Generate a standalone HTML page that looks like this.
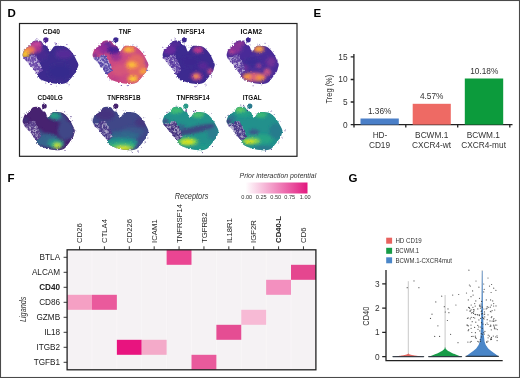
<!DOCTYPE html><html><head><meta charset="utf-8"><style>
html,body{margin:0;padding:0;background:#fff;overflow:hidden;}
svg{display:block;font-family:"Liberation Sans",sans-serif;will-change:transform;}
.pl{font-weight:bold;font-size:11.5px;fill:#000;}
.tt{font-weight:bold;font-size:6.7px;fill:#111;}
.ax{font-size:8.3px;fill:#333;}
.cl{font-size:7.7px;fill:#222;}
.rl{font-size:8.2px;fill:#222;}
.lg{font-size:6.3px;fill:#333;}
</style></head><body>
<svg width="520" height="378" viewBox="0 0 520 378">
<defs>
<clipPath id="cb"><path d="M22.60,55.00C22.55,54.22 22.80,53.58 23.20,52.50C23.60,51.42 24.20,49.42 25.00,48.50C25.80,47.58 27.00,47.67 28.00,47.00C29.00,46.33 30.17,45.42 31.00,44.50C31.83,43.58 32.00,42.15 33.00,41.50C34.00,40.85 35.67,40.65 37.00,40.60C38.33,40.55 40.08,40.80 41.00,41.20C41.92,41.60 42.00,42.37 42.50,43.00C43.00,43.63 43.33,44.58 44.00,45.00C44.67,45.42 45.92,45.17 46.50,45.50C47.08,45.83 47.00,46.00 47.50,47.00C48.00,48.00 48.83,51.00 49.50,51.50C50.17,52.00 50.83,50.75 51.50,50.00C52.17,49.25 52.83,47.70 53.50,47.00C54.17,46.30 54.75,46.00 55.50,45.80C56.25,45.60 56.92,45.77 58.00,45.80C59.08,45.83 60.67,45.80 62.00,46.00C63.33,46.20 64.83,46.45 66.00,47.00C67.17,47.55 68.00,48.38 69.00,49.30C70.00,50.22 71.13,51.43 72.00,52.50C72.87,53.57 73.43,54.38 74.20,55.70C74.97,57.02 75.90,58.93 76.60,60.40C77.30,61.87 78.25,63.23 78.40,64.50C78.55,65.77 77.80,66.93 77.50,68.00C77.20,69.07 77.25,69.72 76.60,70.90C75.95,72.08 74.67,73.70 73.60,75.10C72.53,76.50 71.30,78.07 70.20,79.30C69.10,80.53 68.42,81.70 67.00,82.50C65.58,83.30 63.45,83.88 61.70,84.10C59.95,84.32 58.25,83.98 56.50,83.80C54.75,83.62 52.97,83.38 51.20,83.00C49.43,82.62 47.67,82.12 45.90,81.50C44.13,80.88 42.02,80.18 40.60,79.30C39.18,78.42 37.95,77.08 37.40,76.20C36.85,75.32 36.83,74.70 37.30,74.00C37.77,73.30 39.42,72.87 40.20,72.00C40.98,71.13 42.03,70.13 42.00,68.80C41.97,67.47 40.75,65.55 40.00,64.00C39.25,62.45 38.33,61.00 37.50,59.50C36.67,58.00 36.08,55.55 35.00,55.00C33.92,54.45 32.33,55.82 31.00,56.20C29.67,56.58 28.25,57.13 27.00,57.30C25.75,57.47 24.23,57.58 23.50,57.20C22.77,56.82 22.65,55.78 22.60,55.00Z"/></clipPath>
<filter id="bl" x="-50%" y="-50%" width="200%" height="200%"><feGaussianBlur stdDeviation="1.6"/></filter>
<filter id="rough" x="-10%" y="-10%" width="120%" height="120%"><feTurbulence type="fractalNoise" baseFrequency="0.6" numOctaves="2" seed="4" result="t"/><feDisplacementMap in="SourceGraphic" in2="t" scale="2.6" xChannelSelector="R" yChannelSelector="G"/></filter>
<pattern id="spk" width="2.2" height="2.2" patternUnits="userSpaceOnUse" patternTransform="rotate(30)"><rect width="1.1" height="1.1" fill="currentColor"/></pattern>
<linearGradient id="pk" x1="0" x2="1" y1="0" y2="0"><stop offset="0" stop-color="#fff"/><stop offset="1" stop-color="#e2187f"/></linearGradient>
</defs>
<rect x="0" y="0" width="520" height="378" fill="#fff"/>
<rect x="0.5" y="0.5" width="519" height="377" fill="none" stroke="#4a4a4a" stroke-width="1.1"/>
<!-- D -->
<text x="7.5" y="16.8" class="pl">D</text>
<rect x="19.5" y="23.5" width="277.5" height="132.8" fill="none" stroke="#222" stroke-width="1.2"/>
<g transform="translate(0,0)"><g filter="url(#rough)"><g clip-path="url(#cb)"><rect x="20" y="36" width="62" height="50" fill="#3c2c8e"/><g filter="url(#bl)"><ellipse cx="40" cy="55" rx="8" ry="6" fill="#4a2a90" opacity="0.8"/><ellipse cx="64" cy="54" rx="9" ry="5" fill="#5a2a98" opacity="0.8"/><ellipse cx="60" cy="72" rx="12" ry="8" fill="#352a8c" opacity="0.7"/><ellipse cx="33" cy="47.5" rx="9" ry="5.5" fill="#a8348f" opacity="1"/><ellipse cx="37" cy="43.5" rx="5" ry="2.6" fill="#c8449a" opacity="1"/><ellipse cx="29" cy="50" rx="6" ry="4" fill="#ec7656" opacity="1"/><ellipse cx="26.5" cy="51.5" rx="3.5" ry="2.8" fill="#f39a44" opacity="1"/><ellipse cx="25" cy="54.6" rx="3.8" ry="3.2" fill="#f8c22e" opacity="1"/></g></g><circle cx="45.8" cy="39.8" r="2.6" fill="#4a2390"/><path d="M23.00,57.40C23.50,56.93 26.00,57.63 28.00,57.20C30.00,56.77 33.40,54.37 35.00,54.80C36.60,55.23 36.73,58.27 37.60,59.80C38.47,61.33 39.40,62.47 40.20,64.00C41.00,65.53 42.40,67.50 42.40,69.00C42.40,70.50 41.10,72.20 40.20,73.00C39.30,73.80 38.20,74.47 37.00,73.80C35.80,73.13 34.33,70.63 33.00,69.00C31.67,67.37 30.33,65.50 29.00,64.00C27.67,62.50 26.00,61.10 25.00,60.00C24.00,58.90 22.50,57.87 23.00,57.40Z" fill="#6a48a8" opacity="0.45"/><g fill="#6a48a8"><circle cx="38.2" cy="68.8" r="0.82"/><circle cx="33.2" cy="55.7" r="0.74"/><circle cx="26.3" cy="57.7" r="0.66"/><circle cx="40.9" cy="71.2" r="0.65"/><circle cx="35.6" cy="56.6" r="0.60"/><circle cx="33.9" cy="58.0" r="0.85"/><circle cx="34.8" cy="69.1" r="0.83"/><circle cx="32.6" cy="60.1" r="0.78"/><circle cx="33.1" cy="61.2" r="0.86"/><circle cx="29.6" cy="64.2" r="0.83"/><circle cx="39.1" cy="72.7" r="0.80"/><circle cx="41.1" cy="69.0" r="0.83"/><circle cx="32.8" cy="64.4" r="0.77"/><circle cx="37.8" cy="68.8" r="0.64"/><circle cx="26.6" cy="60.5" r="0.79"/><circle cx="35.7" cy="69.7" r="0.77"/><circle cx="24.4" cy="58.0" r="0.76"/><circle cx="35.0" cy="67.9" r="0.74"/><circle cx="33.4" cy="68.7" r="0.65"/><circle cx="38.8" cy="72.3" r="0.61"/><circle cx="26.2" cy="59.2" r="0.63"/><circle cx="33.4" cy="64.0" r="0.70"/><circle cx="31.5" cy="58.1" r="0.77"/><circle cx="30.2" cy="59.7" r="0.68"/><circle cx="35.5" cy="67.2" r="0.86"/><circle cx="36.2" cy="63.3" r="0.82"/><circle cx="36.8" cy="64.7" r="0.65"/><circle cx="30.0" cy="63.4" r="0.66"/><circle cx="33.5" cy="59.7" r="0.79"/><circle cx="35.3" cy="56.9" r="0.78"/><circle cx="34.3" cy="56.3" r="0.69"/><circle cx="40.1" cy="66.2" r="0.67"/><circle cx="30.3" cy="63.6" r="0.81"/><circle cx="35.1" cy="56.0" r="0.77"/><circle cx="37.9" cy="66.3" r="0.65"/><circle cx="41.9" cy="69.5" r="0.71"/><circle cx="39.5" cy="71.7" r="0.63"/><circle cx="41.2" cy="70.5" r="0.87"/><circle cx="38.4" cy="61.3" r="0.61"/><circle cx="33.5" cy="56.6" r="0.79"/><circle cx="32.7" cy="58.3" r="0.61"/><circle cx="38.1" cy="68.5" r="0.61"/><circle cx="34.1" cy="58.9" r="0.90"/><circle cx="28.3" cy="60.4" r="0.86"/><circle cx="28.6" cy="58.3" r="0.68"/><circle cx="36.0" cy="63.3" r="0.83"/><circle cx="30.9" cy="62.0" r="0.66"/><circle cx="25.8" cy="59.6" r="0.67"/><circle cx="29.4" cy="57.6" r="0.78"/><circle cx="32.9" cy="62.5" r="0.61"/><circle cx="38.6" cy="61.5" r="0.88"/><circle cx="34.1" cy="69.1" r="0.69"/><circle cx="30.4" cy="60.8" r="0.88"/><circle cx="37.5" cy="61.1" r="0.83"/><circle cx="35.0" cy="59.2" r="0.75"/><circle cx="24.0" cy="58.4" r="0.62"/><circle cx="39.4" cy="71.5" r="0.67"/><circle cx="36.5" cy="66.5" r="0.74"/><circle cx="36.5" cy="72.7" r="0.81"/><circle cx="37.7" cy="61.9" r="0.89"/><circle cx="38.7" cy="67.2" r="0.89"/><circle cx="32.1" cy="59.8" r="0.83"/><circle cx="35.7" cy="67.3" r="0.76"/><circle cx="39.6" cy="70.6" r="0.82"/><circle cx="36.3" cy="63.4" r="0.89"/><circle cx="28.0" cy="58.2" r="0.73"/><circle cx="35.4" cy="65.1" r="0.86"/><circle cx="31.9" cy="58.3" r="0.79"/><circle cx="31.9" cy="57.6" r="0.69"/><circle cx="33.0" cy="62.2" r="0.72"/><circle cx="36.9" cy="68.2" r="0.63"/><circle cx="41.6" cy="69.8" r="0.71"/><circle cx="35.4" cy="69.9" r="0.81"/><circle cx="36.1" cy="62.6" r="0.73"/><circle cx="38.0" cy="61.5" r="0.60"/><circle cx="30.2" cy="65.0" r="0.72"/><circle cx="26.4" cy="57.4" r="0.61"/><circle cx="36.8" cy="65.1" r="0.84"/><circle cx="40.1" cy="69.8" r="0.84"/><circle cx="39.2" cy="72.8" r="0.70"/><circle cx="39.1" cy="71.8" r="0.82"/><circle cx="34.1" cy="64.9" r="0.88"/><circle cx="31.3" cy="64.7" r="0.67"/><circle cx="31.9" cy="57.0" r="0.71"/><circle cx="35.0" cy="58.8" r="0.90"/><circle cx="34.4" cy="66.1" r="0.70"/><circle cx="38.6" cy="67.1" r="0.77"/><circle cx="32.1" cy="59.9" r="0.72"/><circle cx="37.4" cy="68.9" r="0.90"/><circle cx="28.9" cy="59.8" r="0.90"/><circle cx="30.9" cy="66.2" r="0.86"/><circle cx="31.8" cy="58.2" r="0.62"/><circle cx="37.0" cy="65.6" r="0.74"/><circle cx="35.4" cy="60.4" r="0.72"/><circle cx="31.6" cy="66.1" r="0.76"/><circle cx="38.4" cy="73.1" r="0.62"/><circle cx="37.6" cy="66.0" r="0.82"/><circle cx="33.4" cy="65.6" r="0.63"/><circle cx="40.7" cy="70.7" r="0.82"/><circle cx="37.6" cy="64.5" r="0.62"/><circle cx="27.3" cy="58.9" r="0.61"/><circle cx="24.1" cy="57.9" r="0.72"/><circle cx="34.0" cy="60.5" r="0.62"/><circle cx="39.4" cy="68.9" r="0.78"/><circle cx="35.0" cy="69.6" r="0.86"/><circle cx="36.2" cy="66.5" r="0.82"/><circle cx="37.7" cy="69.5" r="0.77"/><circle cx="33.6" cy="63.8" r="0.86"/><circle cx="36.0" cy="69.0" r="0.76"/><circle cx="39.3" cy="67.6" r="0.82"/><circle cx="45.8" cy="83.0" r="0.52"/><circle cx="35.8" cy="39.8" r="0.43"/><circle cx="51.3" cy="84.3" r="0.41"/><circle cx="50.8" cy="49.2" r="0.36"/><circle cx="45.8" cy="43.7" r="0.47"/><circle cx="57.9" cy="43.7" r="0.40"/><circle cx="36.9" cy="38.7" r="0.52"/><circle cx="40.8" cy="79.1" r="0.45"/><circle cx="51.6" cy="84.1" r="0.54"/><circle cx="39.2" cy="69.1" r="0.52"/><circle cx="56.3" cy="86.1" r="0.37"/><circle cx="67.2" cy="83.0" r="0.51"/><circle cx="66.9" cy="44.6" r="0.56"/><circle cx="69.1" cy="84.8" r="0.50"/><circle cx="55.8" cy="44.6" r="0.57"/><circle cx="38.9" cy="64.3" r="0.54"/><circle cx="55.2" cy="43.1" r="0.55"/><circle cx="46.9" cy="46.2" r="0.58"/><circle cx="50.9" cy="84.4" r="0.60"/><circle cx="56.6" cy="43.7" r="0.60"/></g></g></g><text x="51.4" y="33.8" class="tt" text-anchor="middle" textLength="17.3" lengthAdjust="spacingAndGlyphs">CD40</text><g transform="translate(70,0)"><g filter="url(#rough)"><g clip-path="url(#cb)"><rect x="20" y="36" width="62" height="50" fill="#cc4a82"/><g filter="url(#bl)"><ellipse cx="66" cy="66" rx="10" ry="12" fill="#e8705e" opacity="0.75"/><ellipse cx="50" cy="70" rx="8" ry="6" fill="#d85a78" opacity="0.7"/><ellipse cx="33" cy="48" rx="9" ry="6" fill="#8a2a9a" opacity="0.9"/><ellipse cx="44" cy="50" rx="7" ry="4.5" fill="#4a2494" opacity="1"/><ellipse cx="38" cy="43.5" rx="4" ry="2.5" fill="#5a2a9a" opacity="0.9"/><ellipse cx="27" cy="51" rx="3" ry="3" fill="#b83a8e" opacity="0.8"/><ellipse cx="25" cy="55.5" rx="2.5" ry="2" fill="#5a2a98" opacity="0.9"/><ellipse cx="46" cy="57" rx="6" ry="4" fill="#8a2a9a" opacity="0.7"/><ellipse cx="59" cy="49.5" rx="6.5" ry="3.5" fill="#f2904a" opacity="1"/><ellipse cx="58.5" cy="49.5" rx="3.2" ry="2" fill="#fab83a" opacity="1"/><ellipse cx="62" cy="64.8" rx="7" ry="4" fill="#f28a4c" opacity="1"/><ellipse cx="62" cy="64.8" rx="3.5" ry="2.2" fill="#fcc13a" opacity="1"/><ellipse cx="73.5" cy="71.5" rx="3.8" ry="3" fill="#f6a23e" opacity="1"/><ellipse cx="63" cy="78.8" rx="6" ry="3.5" fill="#f29446" opacity="1"/><ellipse cx="63" cy="79" rx="3" ry="2.2" fill="#fdd034" opacity="1"/><ellipse cx="44" cy="79" rx="6" ry="3" fill="#b83a88" opacity="0.6"/><ellipse cx="77" cy="62" rx="2.5" ry="5" fill="#9a3a9a" opacity="0.6"/></g></g><circle cx="45.8" cy="39.8" r="2.6" fill="#3a2690"/><path d="M23.00,57.40C23.50,56.93 26.00,57.63 28.00,57.20C30.00,56.77 33.40,54.37 35.00,54.80C36.60,55.23 36.73,58.27 37.60,59.80C38.47,61.33 39.40,62.47 40.20,64.00C41.00,65.53 42.40,67.50 42.40,69.00C42.40,70.50 41.10,72.20 40.20,73.00C39.30,73.80 38.20,74.47 37.00,73.80C35.80,73.13 34.33,70.63 33.00,69.00C31.67,67.37 30.33,65.50 29.00,64.00C27.67,62.50 26.00,61.10 25.00,60.00C24.00,58.90 22.50,57.87 23.00,57.40Z" fill="#5a48a8" opacity="0.45"/><g fill="#5a48a8"><circle cx="34.2" cy="58.1" r="0.89"/><circle cx="35.9" cy="58.5" r="0.67"/><circle cx="29.7" cy="63.9" r="0.70"/><circle cx="35.4" cy="62.5" r="0.66"/><circle cx="31.0" cy="60.4" r="0.63"/><circle cx="39.3" cy="68.3" r="0.80"/><circle cx="30.0" cy="62.9" r="0.72"/><circle cx="31.7" cy="65.2" r="0.70"/><circle cx="37.3" cy="61.6" r="0.80"/><circle cx="32.0" cy="64.5" r="0.86"/><circle cx="36.5" cy="68.4" r="0.60"/><circle cx="40.4" cy="71.6" r="0.64"/><circle cx="36.8" cy="70.3" r="0.84"/><circle cx="37.5" cy="72.7" r="0.73"/><circle cx="33.5" cy="68.5" r="0.71"/><circle cx="27.0" cy="59.7" r="0.80"/><circle cx="33.6" cy="65.2" r="0.70"/><circle cx="36.3" cy="72.8" r="0.72"/><circle cx="29.8" cy="63.4" r="0.80"/><circle cx="36.2" cy="68.4" r="0.71"/><circle cx="35.9" cy="65.5" r="0.64"/><circle cx="33.5" cy="60.7" r="0.80"/><circle cx="31.1" cy="63.6" r="0.69"/><circle cx="30.6" cy="63.5" r="0.68"/><circle cx="34.9" cy="57.0" r="0.82"/><circle cx="36.5" cy="59.6" r="0.79"/><circle cx="37.0" cy="62.8" r="0.68"/><circle cx="27.0" cy="58.6" r="0.84"/><circle cx="26.0" cy="57.3" r="0.82"/><circle cx="34.3" cy="68.0" r="0.87"/><circle cx="37.0" cy="73.3" r="0.75"/><circle cx="34.1" cy="64.1" r="0.64"/><circle cx="34.8" cy="69.0" r="0.90"/><circle cx="30.5" cy="56.8" r="0.62"/><circle cx="41.3" cy="69.9" r="0.88"/><circle cx="31.9" cy="58.2" r="0.65"/><circle cx="37.9" cy="69.9" r="0.66"/><circle cx="34.4" cy="67.9" r="0.79"/><circle cx="36.3" cy="61.8" r="0.84"/><circle cx="36.4" cy="70.7" r="0.82"/><circle cx="37.3" cy="68.4" r="0.69"/><circle cx="32.8" cy="64.2" r="0.88"/><circle cx="36.6" cy="60.0" r="0.79"/><circle cx="35.1" cy="56.9" r="0.88"/><circle cx="39.1" cy="71.4" r="0.65"/><circle cx="40.2" cy="71.9" r="0.81"/><circle cx="37.5" cy="70.0" r="0.87"/><circle cx="33.1" cy="65.8" r="0.69"/><circle cx="25.2" cy="58.8" r="0.87"/><circle cx="38.2" cy="66.2" r="0.71"/><circle cx="40.6" cy="68.6" r="0.70"/><circle cx="34.0" cy="60.2" r="0.69"/><circle cx="36.3" cy="72.3" r="0.86"/><circle cx="34.9" cy="66.9" r="0.81"/><circle cx="40.1" cy="71.3" r="0.83"/><circle cx="40.0" cy="68.6" r="0.75"/><circle cx="37.9" cy="67.3" r="0.67"/><circle cx="30.8" cy="63.2" r="0.81"/><circle cx="38.6" cy="63.8" r="0.69"/><circle cx="27.8" cy="58.6" r="0.85"/><circle cx="32.8" cy="60.0" r="0.83"/><circle cx="30.7" cy="60.6" r="0.68"/><circle cx="34.0" cy="69.7" r="0.72"/><circle cx="28.9" cy="57.6" r="0.89"/><circle cx="33.3" cy="57.2" r="0.61"/><circle cx="33.1" cy="60.0" r="0.77"/><circle cx="29.0" cy="62.7" r="0.77"/><circle cx="32.3" cy="56.3" r="0.76"/><circle cx="36.4" cy="66.9" r="0.81"/><circle cx="37.2" cy="73.6" r="0.87"/><circle cx="26.3" cy="58.1" r="0.63"/><circle cx="30.2" cy="62.9" r="0.71"/><circle cx="39.2" cy="66.9" r="0.84"/><circle cx="40.1" cy="70.1" r="0.75"/><circle cx="30.6" cy="65.3" r="0.74"/><circle cx="36.0" cy="71.9" r="0.80"/><circle cx="31.6" cy="56.6" r="0.63"/><circle cx="41.2" cy="69.2" r="0.78"/><circle cx="34.8" cy="67.5" r="0.75"/><circle cx="33.7" cy="56.4" r="0.85"/><circle cx="40.2" cy="71.9" r="0.83"/><circle cx="27.1" cy="60.2" r="0.62"/><circle cx="38.5" cy="72.1" r="0.88"/><circle cx="34.6" cy="70.8" r="0.85"/><circle cx="37.0" cy="67.0" r="0.72"/><circle cx="35.7" cy="56.3" r="0.73"/><circle cx="31.2" cy="66.7" r="0.88"/><circle cx="28.7" cy="57.1" r="0.79"/><circle cx="35.9" cy="65.5" r="0.84"/><circle cx="33.7" cy="65.4" r="0.63"/><circle cx="31.6" cy="59.9" r="0.68"/><circle cx="30.8" cy="62.7" r="0.66"/><circle cx="34.5" cy="68.6" r="0.78"/><circle cx="36.7" cy="73.4" r="0.73"/><circle cx="36.9" cy="59.3" r="0.88"/><circle cx="36.4" cy="70.4" r="0.88"/><circle cx="33.6" cy="69.1" r="0.65"/><circle cx="32.4" cy="59.2" r="0.61"/><circle cx="27.6" cy="59.6" r="0.81"/><circle cx="32.3" cy="63.7" r="0.79"/><circle cx="30.6" cy="65.8" r="0.86"/><circle cx="35.0" cy="61.2" r="0.89"/><circle cx="36.1" cy="59.1" r="0.90"/><circle cx="40.2" cy="64.7" r="0.84"/><circle cx="34.2" cy="69.1" r="0.83"/><circle cx="34.5" cy="56.6" r="0.65"/><circle cx="38.8" cy="65.8" r="0.88"/><circle cx="40.1" cy="65.5" r="0.73"/><circle cx="28.7" cy="61.9" r="0.76"/><circle cx="33.9" cy="68.3" r="0.65"/><circle cx="67.0" cy="46.2" r="0.47"/><circle cx="57.3" cy="85.6" r="0.53"/><circle cx="77.7" cy="70.3" r="0.58"/><circle cx="53.4" cy="45.0" r="0.35"/><circle cx="53.8" cy="47.0" r="0.41"/><circle cx="41.6" cy="68.6" r="0.44"/><circle cx="42.2" cy="41.4" r="0.56"/><circle cx="29.3" cy="43.3" r="0.57"/><circle cx="39.7" cy="80.0" r="0.38"/><circle cx="45.7" cy="44.0" r="0.40"/><circle cx="66.5" cy="45.2" r="0.41"/><circle cx="51.3" cy="85.5" r="0.57"/><circle cx="73.7" cy="51.9" r="0.51"/><circle cx="62.8" cy="44.9" r="0.48"/><circle cx="49.1" cy="48.6" r="0.36"/><circle cx="33.7" cy="55.3" r="0.56"/><circle cx="33.5" cy="53.9" r="0.42"/><circle cx="66.8" cy="45.9" r="0.40"/><circle cx="51.5" cy="85.5" r="0.41"/><circle cx="40.7" cy="69.8" r="0.47"/><circle cx="48.6" cy="49.0" r="0.44"/></g></g></g><text x="125" y="33.8" class="tt" text-anchor="middle" textLength="12.3" lengthAdjust="spacingAndGlyphs">TNF</text><g transform="translate(140,0) translate(23,0) scale(0.935,1) translate(-23,0)"><g filter="url(#rough)"><g clip-path="url(#cb)"><rect x="20" y="36" width="62" height="50" fill="#3d2a90"/><g filter="url(#bl)"><ellipse cx="30" cy="50" rx="7" ry="5" fill="#6a2a9e" opacity="0.9"/><ellipse cx="36" cy="44" rx="5" ry="3" fill="#5a2a98" opacity="0.7"/><ellipse cx="60.5" cy="50" rx="5.5" ry="3.3" fill="#b8398c" opacity="1"/><ellipse cx="59" cy="76.5" rx="6" ry="4" fill="#b83a8a" opacity="1"/><ellipse cx="58.5" cy="76.3" rx="2.8" ry="2.2" fill="#f5953e" opacity="1"/><ellipse cx="73.5" cy="71.5" rx="3.2" ry="2.8" fill="#c0448a" opacity="1"/><ellipse cx="52" cy="62" rx="10" ry="6" fill="#3a2890" opacity="0.6"/><ellipse cx="66" cy="66" rx="5" ry="4" fill="#6a2a9a" opacity="0.6"/></g></g><circle cx="45.8" cy="39.8" r="2.6" fill="#3a2690"/><path d="M23.00,57.40C23.50,56.93 26.00,57.63 28.00,57.20C30.00,56.77 33.40,54.37 35.00,54.80C36.60,55.23 36.73,58.27 37.60,59.80C38.47,61.33 39.40,62.47 40.20,64.00C41.00,65.53 42.40,67.50 42.40,69.00C42.40,70.50 41.10,72.20 40.20,73.00C39.30,73.80 38.20,74.47 37.00,73.80C35.80,73.13 34.33,70.63 33.00,69.00C31.67,67.37 30.33,65.50 29.00,64.00C27.67,62.50 26.00,61.10 25.00,60.00C24.00,58.90 22.50,57.87 23.00,57.40Z" fill="#5a3aa0" opacity="0.45"/><g fill="#5a3aa0"><circle cx="34.8" cy="62.1" r="0.79"/><circle cx="33.1" cy="67.0" r="0.76"/><circle cx="40.5" cy="69.4" r="0.71"/><circle cx="39.0" cy="68.5" r="0.78"/><circle cx="31.3" cy="64.5" r="0.67"/><circle cx="33.1" cy="57.1" r="0.79"/><circle cx="35.2" cy="68.1" r="0.67"/><circle cx="36.4" cy="64.7" r="0.82"/><circle cx="31.1" cy="62.4" r="0.87"/><circle cx="25.5" cy="58.4" r="0.78"/><circle cx="35.3" cy="63.1" r="0.77"/><circle cx="40.7" cy="71.3" r="0.79"/><circle cx="40.2" cy="68.4" r="0.72"/><circle cx="37.6" cy="66.6" r="0.87"/><circle cx="35.1" cy="65.2" r="0.89"/><circle cx="33.1" cy="62.4" r="0.88"/><circle cx="30.2" cy="57.2" r="0.64"/><circle cx="30.7" cy="59.1" r="0.66"/><circle cx="38.9" cy="71.4" r="0.74"/><circle cx="39.7" cy="67.5" r="0.67"/><circle cx="24.0" cy="57.6" r="0.84"/><circle cx="27.8" cy="58.6" r="0.79"/><circle cx="36.7" cy="73.4" r="0.81"/><circle cx="37.3" cy="72.2" r="0.62"/><circle cx="34.6" cy="64.1" r="0.86"/><circle cx="31.5" cy="59.2" r="0.64"/><circle cx="37.9" cy="69.8" r="0.89"/><circle cx="33.7" cy="66.6" r="0.74"/><circle cx="40.4" cy="68.7" r="0.89"/><circle cx="33.6" cy="55.7" r="0.81"/><circle cx="35.6" cy="58.3" r="0.65"/><circle cx="23.4" cy="57.7" r="0.89"/><circle cx="31.9" cy="61.5" r="0.89"/><circle cx="36.5" cy="61.1" r="0.75"/><circle cx="31.3" cy="63.4" r="0.71"/><circle cx="26.8" cy="60.8" r="0.84"/><circle cx="37.6" cy="71.1" r="0.80"/><circle cx="35.3" cy="60.0" r="0.63"/><circle cx="40.1" cy="72.0" r="0.87"/><circle cx="39.2" cy="71.2" r="0.81"/><circle cx="37.1" cy="59.1" r="0.78"/><circle cx="33.3" cy="63.1" r="0.68"/><circle cx="40.8" cy="69.5" r="0.69"/><circle cx="32.7" cy="67.3" r="0.82"/><circle cx="32.5" cy="61.8" r="0.87"/><circle cx="39.7" cy="72.6" r="0.82"/><circle cx="33.4" cy="61.7" r="0.69"/><circle cx="27.1" cy="61.5" r="0.65"/><circle cx="29.7" cy="62.2" r="0.63"/><circle cx="35.5" cy="61.2" r="0.84"/><circle cx="30.5" cy="60.9" r="0.65"/><circle cx="40.5" cy="65.7" r="0.65"/><circle cx="37.7" cy="66.6" r="0.83"/><circle cx="39.5" cy="65.0" r="0.65"/><circle cx="34.9" cy="66.6" r="0.77"/><circle cx="38.4" cy="64.0" r="0.87"/><circle cx="34.5" cy="57.4" r="0.85"/><circle cx="31.6" cy="61.9" r="0.83"/><circle cx="37.7" cy="60.8" r="0.89"/><circle cx="35.9" cy="58.3" r="0.69"/><circle cx="36.5" cy="72.1" r="0.77"/><circle cx="39.9" cy="72.8" r="0.88"/><circle cx="41.3" cy="68.6" r="0.81"/><circle cx="37.9" cy="71.4" r="0.63"/><circle cx="31.7" cy="63.4" r="0.64"/><circle cx="35.0" cy="70.5" r="0.69"/><circle cx="38.8" cy="65.8" r="0.65"/><circle cx="37.5" cy="66.9" r="0.80"/><circle cx="36.9" cy="69.1" r="0.65"/><circle cx="40.2" cy="67.6" r="0.75"/><circle cx="39.2" cy="71.7" r="0.67"/><circle cx="34.1" cy="65.0" r="0.80"/><circle cx="41.7" cy="67.8" r="0.65"/><circle cx="31.0" cy="57.9" r="0.71"/><circle cx="37.5" cy="67.7" r="0.79"/><circle cx="36.1" cy="58.8" r="0.73"/><circle cx="37.3" cy="66.1" r="0.70"/><circle cx="41.8" cy="68.7" r="0.73"/><circle cx="36.9" cy="73.7" r="0.86"/><circle cx="30.4" cy="65.4" r="0.73"/><circle cx="36.9" cy="65.0" r="0.74"/><circle cx="37.3" cy="66.6" r="0.79"/><circle cx="37.7" cy="63.3" r="0.72"/><circle cx="33.0" cy="59.3" r="0.68"/><circle cx="27.7" cy="57.4" r="0.90"/><circle cx="28.0" cy="58.9" r="0.78"/><circle cx="28.8" cy="63.7" r="0.77"/><circle cx="32.7" cy="66.7" r="0.75"/><circle cx="32.7" cy="64.5" r="0.73"/><circle cx="38.3" cy="61.4" r="0.72"/><circle cx="32.1" cy="66.7" r="0.88"/><circle cx="39.7" cy="71.1" r="0.66"/><circle cx="35.3" cy="61.3" r="0.71"/><circle cx="38.9" cy="66.9" r="0.84"/><circle cx="35.0" cy="67.6" r="0.71"/><circle cx="39.0" cy="69.5" r="0.63"/><circle cx="40.4" cy="64.6" r="0.85"/><circle cx="31.4" cy="59.9" r="0.87"/><circle cx="32.4" cy="62.1" r="0.72"/><circle cx="34.7" cy="57.1" r="0.88"/><circle cx="31.9" cy="58.5" r="0.76"/><circle cx="38.0" cy="63.0" r="0.85"/><circle cx="37.9" cy="71.3" r="0.89"/><circle cx="34.0" cy="67.0" r="0.82"/><circle cx="38.0" cy="67.7" r="0.78"/><circle cx="33.4" cy="57.0" r="0.68"/><circle cx="34.7" cy="58.7" r="0.71"/><circle cx="33.3" cy="64.8" r="0.74"/><circle cx="33.8" cy="64.5" r="0.62"/><circle cx="30.0" cy="60.5" r="0.79"/><circle cx="37.9" cy="72.4" r="0.52"/><circle cx="45.8" cy="44.1" r="0.36"/><circle cx="31.9" cy="40.0" r="0.57"/><circle cx="30.3" cy="44.2" r="0.59"/><circle cx="69.1" cy="84.9" r="0.51"/><circle cx="73.9" cy="75.5" r="0.46"/><circle cx="42.4" cy="40.7" r="0.41"/><circle cx="68.2" cy="83.9" r="0.36"/><circle cx="41.8" cy="40.8" r="0.48"/><circle cx="57.5" cy="86.8" r="0.55"/><circle cx="36.5" cy="38.8" r="0.44"/><circle cx="47.8" cy="45.9" r="0.42"/><circle cx="50.7" cy="47.0" r="0.46"/><circle cx="32.4" cy="54.0" r="0.36"/><circle cx="41.3" cy="40.8" r="0.37"/><circle cx="53.3" cy="45.5" r="0.39"/><circle cx="74.9" cy="75.8" r="0.58"/><circle cx="22.8" cy="47.2" r="0.56"/><circle cx="35.8" cy="39.0" r="0.50"/><circle cx="45.3" cy="43.6" r="0.59"/><circle cx="80.3" cy="65.0" r="0.47"/></g></g></g><text x="190.6" y="33.8" class="tt" text-anchor="middle" textLength="27.9" lengthAdjust="spacingAndGlyphs">TNFSF14</text><g transform="translate(204,0) translate(23,0) scale(0.935,1) translate(-23,0)"><g filter="url(#rough)"><g clip-path="url(#cb)"><rect x="20" y="36" width="62" height="50" fill="#4a2c98"/><g filter="url(#bl)"><ellipse cx="31" cy="48" rx="8" ry="6" fill="#8a3098" opacity="0.9"/><ellipse cx="28" cy="52" rx="3" ry="2.5" fill="#b04090" opacity="0.9"/><ellipse cx="38" cy="43" rx="4" ry="2.5" fill="#a03a94" opacity="0.8"/><ellipse cx="57" cy="49" rx="6" ry="3.5" fill="#ec8450" opacity="1"/><ellipse cx="57.5" cy="48.8" rx="3" ry="1.8" fill="#f8b03c" opacity="1"/><ellipse cx="52" cy="77" rx="13" ry="4.5" fill="#d8607a" opacity="1"/><ellipse cx="45" cy="76.5" rx="4" ry="3" fill="#f39444" opacity="1"/><ellipse cx="58" cy="78" rx="4.5" ry="3" fill="#f29244" opacity="1"/><ellipse cx="66" cy="72" rx="4" ry="3.5" fill="#d05884" opacity="0.9"/><ellipse cx="50" cy="62" rx="9" ry="5" fill="#3c2c94" opacity="0.8"/><ellipse cx="70" cy="62" rx="5" ry="5" fill="#8a3098" opacity="0.6"/><ellipse cx="57" cy="66" rx="2.5" ry="2" fill="#c04a8a" opacity="0.7"/><ellipse cx="42" cy="68" rx="3" ry="3" fill="#8a3098" opacity="0.6"/></g></g><circle cx="45.8" cy="39.8" r="2.6" fill="#3a2690"/><path d="M23.00,57.40C23.50,56.93 26.00,57.63 28.00,57.20C30.00,56.77 33.40,54.37 35.00,54.80C36.60,55.23 36.73,58.27 37.60,59.80C38.47,61.33 39.40,62.47 40.20,64.00C41.00,65.53 42.40,67.50 42.40,69.00C42.40,70.50 41.10,72.20 40.20,73.00C39.30,73.80 38.20,74.47 37.00,73.80C35.80,73.13 34.33,70.63 33.00,69.00C31.67,67.37 30.33,65.50 29.00,64.00C27.67,62.50 26.00,61.10 25.00,60.00C24.00,58.90 22.50,57.87 23.00,57.40Z" fill="#6040a0" opacity="0.45"/><g fill="#6040a0"><circle cx="37.1" cy="69.4" r="0.66"/><circle cx="33.0" cy="57.9" r="0.72"/><circle cx="37.4" cy="69.2" r="0.72"/><circle cx="38.5" cy="66.0" r="0.85"/><circle cx="27.2" cy="61.8" r="0.77"/><circle cx="32.0" cy="59.3" r="0.68"/><circle cx="33.1" cy="68.9" r="0.69"/><circle cx="32.1" cy="57.1" r="0.73"/><circle cx="39.1" cy="68.7" r="0.63"/><circle cx="38.2" cy="68.9" r="0.69"/><circle cx="33.5" cy="66.5" r="0.72"/><circle cx="39.2" cy="63.3" r="0.82"/><circle cx="40.3" cy="65.4" r="0.77"/><circle cx="35.1" cy="58.8" r="0.72"/><circle cx="34.1" cy="67.6" r="0.71"/><circle cx="32.0" cy="60.9" r="0.77"/><circle cx="36.2" cy="60.9" r="0.81"/><circle cx="39.8" cy="65.3" r="0.89"/><circle cx="41.8" cy="68.3" r="0.70"/><circle cx="40.5" cy="67.2" r="0.65"/><circle cx="31.0" cy="60.1" r="0.86"/><circle cx="37.6" cy="60.7" r="0.68"/><circle cx="32.9" cy="62.4" r="0.78"/><circle cx="30.8" cy="56.9" r="0.83"/><circle cx="40.8" cy="68.3" r="0.76"/><circle cx="36.2" cy="72.1" r="0.68"/><circle cx="38.4" cy="65.6" r="0.63"/><circle cx="38.5" cy="69.8" r="0.84"/><circle cx="27.3" cy="59.2" r="0.73"/><circle cx="38.1" cy="70.7" r="0.83"/><circle cx="34.2" cy="64.0" r="0.66"/><circle cx="36.0" cy="67.7" r="0.75"/><circle cx="36.5" cy="60.0" r="0.88"/><circle cx="34.7" cy="60.8" r="0.71"/><circle cx="29.9" cy="58.2" r="0.63"/><circle cx="35.6" cy="60.6" r="0.74"/><circle cx="36.9" cy="59.8" r="0.73"/><circle cx="28.8" cy="60.8" r="0.80"/><circle cx="32.1" cy="67.9" r="0.76"/><circle cx="39.2" cy="68.7" r="0.79"/><circle cx="37.8" cy="62.7" r="0.89"/><circle cx="35.4" cy="71.3" r="0.82"/><circle cx="33.4" cy="61.6" r="0.61"/><circle cx="37.2" cy="71.2" r="0.68"/><circle cx="36.0" cy="58.1" r="0.69"/><circle cx="28.1" cy="58.6" r="0.86"/><circle cx="36.4" cy="66.4" r="0.86"/><circle cx="35.7" cy="69.6" r="0.78"/><circle cx="36.9" cy="58.9" r="0.64"/><circle cx="31.4" cy="66.5" r="0.82"/><circle cx="32.0" cy="65.4" r="0.63"/><circle cx="28.7" cy="59.1" r="0.64"/><circle cx="29.1" cy="61.1" r="0.85"/><circle cx="36.6" cy="72.0" r="0.66"/><circle cx="33.0" cy="61.7" r="0.74"/><circle cx="35.7" cy="66.0" r="0.62"/><circle cx="31.1" cy="61.8" r="0.79"/><circle cx="38.7" cy="71.9" r="0.69"/><circle cx="34.4" cy="55.9" r="0.90"/><circle cx="33.9" cy="60.3" r="0.75"/><circle cx="30.7" cy="61.9" r="0.82"/><circle cx="25.7" cy="58.4" r="0.90"/><circle cx="36.6" cy="67.3" r="0.86"/><circle cx="41.1" cy="69.4" r="0.85"/><circle cx="37.8" cy="62.5" r="0.85"/><circle cx="34.3" cy="64.2" r="0.78"/><circle cx="31.8" cy="67.4" r="0.83"/><circle cx="34.6" cy="61.3" r="0.76"/><circle cx="24.1" cy="57.4" r="0.79"/><circle cx="32.6" cy="61.3" r="0.66"/><circle cx="33.1" cy="64.7" r="0.68"/><circle cx="38.2" cy="68.4" r="0.85"/><circle cx="34.6" cy="57.5" r="0.78"/><circle cx="38.4" cy="67.0" r="0.78"/><circle cx="32.9" cy="65.4" r="0.60"/><circle cx="40.4" cy="68.3" r="0.70"/><circle cx="38.7" cy="64.0" r="0.82"/><circle cx="32.6" cy="55.9" r="0.83"/><circle cx="41.6" cy="69.2" r="0.62"/><circle cx="31.8" cy="59.3" r="0.74"/><circle cx="39.8" cy="67.5" r="0.72"/><circle cx="40.7" cy="72.0" r="0.74"/><circle cx="30.6" cy="60.8" r="0.77"/><circle cx="31.4" cy="66.1" r="0.82"/><circle cx="33.7" cy="57.3" r="0.81"/><circle cx="30.5" cy="60.0" r="0.74"/><circle cx="33.3" cy="62.4" r="0.63"/><circle cx="25.9" cy="58.6" r="0.89"/><circle cx="34.0" cy="58.8" r="0.84"/><circle cx="36.6" cy="69.9" r="0.71"/><circle cx="29.0" cy="62.9" r="0.86"/><circle cx="37.2" cy="65.7" r="0.79"/><circle cx="41.2" cy="67.0" r="0.66"/><circle cx="24.9" cy="58.1" r="0.71"/><circle cx="39.1" cy="65.9" r="0.74"/><circle cx="26.7" cy="61.6" r="0.62"/><circle cx="36.1" cy="60.4" r="0.79"/><circle cx="29.1" cy="62.2" r="0.86"/><circle cx="36.2" cy="69.7" r="0.82"/><circle cx="33.8" cy="60.6" r="0.80"/><circle cx="38.9" cy="71.7" r="0.61"/><circle cx="38.4" cy="63.4" r="0.66"/><circle cx="37.3" cy="69.5" r="0.74"/><circle cx="28.3" cy="58.6" r="0.83"/><circle cx="36.6" cy="69.3" r="0.84"/><circle cx="34.7" cy="70.6" r="0.68"/><circle cx="36.3" cy="70.5" r="0.86"/><circle cx="35.3" cy="56.8" r="0.76"/><circle cx="39.5" cy="65.3" r="0.68"/><circle cx="30.2" cy="58.1" r="0.68"/><circle cx="37.7" cy="64.1" r="0.52"/><circle cx="55.7" cy="44.1" r="0.42"/><circle cx="63.7" cy="43.3" r="0.54"/><circle cx="33.0" cy="41.0" r="0.47"/><circle cx="28.6" cy="43.0" r="0.52"/><circle cx="41.1" cy="40.5" r="0.52"/><circle cx="38.8" cy="72.7" r="0.53"/><circle cx="30.6" cy="43.0" r="0.57"/><circle cx="41.3" cy="68.9" r="0.42"/><circle cx="30.7" cy="44.5" r="0.41"/><circle cx="47.9" cy="44.9" r="0.48"/><circle cx="49.6" cy="50.4" r="0.58"/><circle cx="57.9" cy="44.1" r="0.53"/><circle cx="72.6" cy="51.6" r="0.43"/><circle cx="77.1" cy="60.0" r="0.52"/><circle cx="43.9" cy="43.3" r="0.35"/><circle cx="67.7" cy="45.9" r="0.45"/><circle cx="50.9" cy="85.8" r="0.57"/><circle cx="26.6" cy="46.2" r="0.47"/><circle cx="61.9" cy="45.5" r="0.41"/></g></g></g><text x="251.4" y="33.8" class="tt" text-anchor="middle" textLength="21.7" lengthAdjust="spacingAndGlyphs">ICAM2</text><g transform="translate(0,66.2) translate(23,0) scale(0.935,1) translate(-23,0)"><g filter="url(#rough)"><g clip-path="url(#cb)"><rect x="20" y="36" width="62" height="50" fill="#46206f"/><g filter="url(#bl)"><ellipse cx="69" cy="64" rx="9" ry="10" fill="#3e4a89" opacity="0.9"/><ellipse cx="63" cy="52" rx="7" ry="4" fill="#3b528b" opacity="0.8"/><ellipse cx="57" cy="49.5" rx="7" ry="4" fill="#21908c" opacity="1"/><ellipse cx="56" cy="49" rx="3.5" ry="2.2" fill="#2aa084" opacity="1"/><ellipse cx="48" cy="74" rx="13" ry="7" fill="#31688e" opacity="0.95"/><ellipse cx="58" cy="77.5" rx="9" ry="5" fill="#2a8f8a" opacity="1"/><ellipse cx="40" cy="68" rx="5" ry="5" fill="#3b5a8b" opacity="0.7"/><ellipse cx="59.5" cy="79" rx="5.5" ry="3.2" fill="#5ec962" opacity="1"/><ellipse cx="59.5" cy="79.3" rx="3" ry="1.8" fill="#dce319" opacity="1"/><ellipse cx="26" cy="54" rx="3" ry="2.5" fill="#3e3a7e" opacity="0.8"/></g></g><circle cx="45.8" cy="39.8" r="2.6" fill="#44206e"/><path d="M23.00,57.40C23.50,56.93 26.00,57.63 28.00,57.20C30.00,56.77 33.40,54.37 35.00,54.80C36.60,55.23 36.73,58.27 37.60,59.80C38.47,61.33 39.40,62.47 40.20,64.00C41.00,65.53 42.40,67.50 42.40,69.00C42.40,70.50 41.10,72.20 40.20,73.00C39.30,73.80 38.20,74.47 37.00,73.80C35.80,73.13 34.33,70.63 33.00,69.00C31.67,67.37 30.33,65.50 29.00,64.00C27.67,62.50 26.00,61.10 25.00,60.00C24.00,58.90 22.50,57.87 23.00,57.40Z" fill="#553a88" opacity="0.45"/><g fill="#553a88"><circle cx="40.1" cy="66.2" r="0.72"/><circle cx="35.2" cy="62.6" r="0.74"/><circle cx="33.3" cy="59.4" r="0.65"/><circle cx="33.9" cy="56.1" r="0.78"/><circle cx="38.8" cy="71.4" r="0.68"/><circle cx="38.9" cy="65.5" r="0.79"/><circle cx="25.0" cy="57.4" r="0.79"/><circle cx="35.0" cy="69.1" r="0.79"/><circle cx="33.5" cy="65.2" r="0.82"/><circle cx="36.6" cy="72.0" r="0.87"/><circle cx="39.6" cy="64.9" r="0.76"/><circle cx="37.4" cy="66.2" r="0.61"/><circle cx="32.2" cy="63.5" r="0.63"/><circle cx="34.1" cy="66.4" r="0.84"/><circle cx="34.9" cy="60.4" r="0.77"/><circle cx="36.5" cy="58.4" r="0.65"/><circle cx="29.0" cy="57.7" r="0.63"/><circle cx="26.4" cy="58.8" r="0.67"/><circle cx="32.6" cy="58.8" r="0.76"/><circle cx="27.0" cy="58.1" r="0.75"/><circle cx="33.8" cy="62.3" r="0.76"/><circle cx="30.3" cy="58.6" r="0.71"/><circle cx="38.2" cy="66.9" r="0.68"/><circle cx="31.2" cy="56.5" r="0.84"/><circle cx="32.3" cy="61.7" r="0.84"/><circle cx="28.6" cy="63.3" r="0.73"/><circle cx="26.6" cy="58.4" r="0.67"/><circle cx="39.3" cy="71.4" r="0.82"/><circle cx="34.1" cy="57.1" r="0.67"/><circle cx="34.7" cy="57.8" r="0.62"/><circle cx="34.8" cy="59.1" r="0.73"/><circle cx="37.6" cy="67.8" r="0.85"/><circle cx="32.9" cy="68.2" r="0.88"/><circle cx="31.9" cy="63.2" r="0.87"/><circle cx="31.5" cy="59.7" r="0.80"/><circle cx="39.0" cy="70.5" r="0.72"/><circle cx="39.2" cy="65.4" r="0.79"/><circle cx="36.7" cy="62.7" r="0.65"/><circle cx="29.5" cy="59.1" r="0.84"/><circle cx="24.6" cy="58.8" r="0.61"/><circle cx="34.3" cy="65.6" r="0.82"/><circle cx="26.9" cy="57.9" r="0.89"/><circle cx="35.4" cy="64.4" r="0.75"/><circle cx="36.7" cy="59.3" r="0.75"/><circle cx="37.6" cy="71.4" r="0.87"/><circle cx="34.1" cy="58.7" r="0.75"/><circle cx="28.2" cy="58.1" r="0.86"/><circle cx="34.8" cy="69.3" r="0.73"/><circle cx="37.7" cy="68.8" r="0.72"/><circle cx="26.1" cy="60.5" r="0.82"/><circle cx="28.5" cy="58.9" r="0.66"/><circle cx="36.9" cy="71.8" r="0.63"/><circle cx="30.3" cy="56.6" r="0.80"/><circle cx="29.2" cy="57.3" r="0.62"/><circle cx="36.5" cy="72.3" r="0.88"/><circle cx="38.2" cy="66.0" r="0.76"/><circle cx="33.5" cy="61.6" r="0.64"/><circle cx="40.7" cy="68.1" r="0.89"/><circle cx="39.9" cy="71.2" r="0.82"/><circle cx="38.5" cy="66.7" r="0.71"/><circle cx="32.5" cy="56.2" r="0.86"/><circle cx="40.6" cy="67.4" r="0.87"/><circle cx="29.2" cy="63.8" r="0.81"/><circle cx="37.6" cy="62.0" r="0.71"/><circle cx="39.8" cy="68.0" r="0.76"/><circle cx="27.3" cy="61.7" r="0.63"/><circle cx="33.9" cy="61.2" r="0.70"/><circle cx="33.8" cy="62.5" r="0.76"/><circle cx="35.8" cy="66.5" r="0.76"/><circle cx="37.3" cy="72.5" r="0.84"/><circle cx="34.6" cy="57.7" r="0.85"/><circle cx="32.3" cy="66.2" r="0.88"/><circle cx="28.7" cy="61.1" r="0.78"/><circle cx="35.4" cy="70.8" r="0.79"/><circle cx="28.7" cy="61.8" r="0.89"/><circle cx="34.9" cy="66.7" r="0.73"/><circle cx="40.4" cy="68.7" r="0.82"/><circle cx="33.2" cy="62.8" r="0.80"/><circle cx="39.9" cy="70.1" r="0.67"/><circle cx="35.5" cy="57.7" r="0.70"/><circle cx="33.9" cy="57.0" r="0.82"/><circle cx="35.9" cy="70.3" r="0.74"/><circle cx="39.6" cy="69.6" r="0.76"/><circle cx="35.8" cy="59.4" r="0.78"/><circle cx="31.9" cy="57.5" r="0.79"/><circle cx="35.9" cy="68.6" r="0.89"/><circle cx="26.5" cy="59.3" r="0.89"/><circle cx="38.5" cy="62.2" r="0.62"/><circle cx="29.3" cy="59.9" r="0.72"/><circle cx="34.7" cy="60.2" r="0.61"/><circle cx="35.8" cy="56.7" r="0.72"/><circle cx="37.8" cy="62.0" r="0.80"/><circle cx="31.5" cy="57.1" r="0.81"/><circle cx="32.0" cy="65.3" r="0.69"/><circle cx="35.1" cy="66.6" r="0.87"/><circle cx="26.0" cy="57.8" r="0.65"/><circle cx="38.6" cy="63.9" r="0.82"/><circle cx="31.7" cy="58.8" r="0.72"/><circle cx="41.1" cy="70.2" r="0.80"/><circle cx="29.5" cy="62.8" r="0.84"/><circle cx="25.4" cy="59.9" r="0.77"/><circle cx="27.8" cy="59.8" r="0.72"/><circle cx="31.7" cy="63.7" r="0.69"/><circle cx="32.8" cy="59.8" r="0.69"/><circle cx="37.6" cy="73.2" r="0.73"/><circle cx="33.5" cy="58.9" r="0.71"/><circle cx="34.7" cy="70.2" r="0.84"/><circle cx="35.0" cy="70.3" r="0.89"/><circle cx="32.2" cy="61.2" r="0.72"/><circle cx="26.2" cy="59.6" r="0.74"/><circle cx="74.9" cy="50.7" r="0.56"/><circle cx="67.6" cy="45.5" r="0.55"/><circle cx="69.8" cy="48.2" r="0.50"/><circle cx="79.4" cy="64.9" r="0.55"/><circle cx="58.6" cy="44.1" r="0.50"/><circle cx="26.5" cy="46.1" r="0.51"/><circle cx="68.2" cy="84.3" r="0.46"/><circle cx="23.7" cy="47.1" r="0.56"/><circle cx="73.7" cy="51.9" r="0.40"/><circle cx="34.4" cy="54.7" r="0.53"/><circle cx="43.9" cy="43.9" r="0.49"/><circle cx="21.7" cy="51.5" r="0.41"/><circle cx="23.9" cy="47.7" r="0.59"/><circle cx="38.4" cy="73.1" r="0.43"/><circle cx="75.7" cy="54.3" r="0.39"/><circle cx="23.7" cy="48.3" r="0.47"/></g></g></g><text x="50.2" y="100.0" class="tt" text-anchor="middle" textLength="25.3" lengthAdjust="spacingAndGlyphs">CD40LG</text><g transform="translate(70,66.2)"><g filter="url(#rough)"><g clip-path="url(#cb)"><rect x="20" y="36" width="62" height="50" fill="#3f4788"/><g filter="url(#bl)"><ellipse cx="35" cy="48" rx="10" ry="6" fill="#45307e" opacity="0.9"/><ellipse cx="72" cy="56" rx="7" ry="5" fill="#472d7b" opacity="0.6"/><ellipse cx="62" cy="66" rx="12" ry="5" fill="#35608d" opacity="0.6"/><ellipse cx="52" cy="70" rx="17" ry="5" fill="#2e6e8e" opacity="0.75"/><ellipse cx="51" cy="76" rx="17" ry="4.5" fill="#23918b" opacity="1"/><ellipse cx="52" cy="80" rx="14" ry="3.5" fill="#3fb974" opacity="1"/><ellipse cx="53" cy="82.3" rx="9" ry="2.4" fill="#b5dd2b" opacity="1"/><ellipse cx="53" cy="82.5" rx="5" ry="1.6" fill="#d8e21c" opacity="1"/></g></g><circle cx="45.8" cy="39.8" r="2.6" fill="#44206e"/><path d="M23.00,57.40C23.50,56.93 26.00,57.63 28.00,57.20C30.00,56.77 33.40,54.37 35.00,54.80C36.60,55.23 36.73,58.27 37.60,59.80C38.47,61.33 39.40,62.47 40.20,64.00C41.00,65.53 42.40,67.50 42.40,69.00C42.40,70.50 41.10,72.20 40.20,73.00C39.30,73.80 38.20,74.47 37.00,73.80C35.80,73.13 34.33,70.63 33.00,69.00C31.67,67.37 30.33,65.50 29.00,64.00C27.67,62.50 26.00,61.10 25.00,60.00C24.00,58.90 22.50,57.87 23.00,57.40Z" fill="#4a3a88" opacity="0.45"/><g fill="#4a3a88"><circle cx="29.0" cy="57.4" r="0.70"/><circle cx="35.8" cy="61.4" r="0.65"/><circle cx="31.0" cy="62.1" r="0.74"/><circle cx="39.2" cy="65.0" r="0.68"/><circle cx="35.1" cy="56.4" r="0.85"/><circle cx="38.1" cy="72.5" r="0.89"/><circle cx="30.2" cy="65.2" r="0.75"/><circle cx="38.0" cy="67.2" r="0.85"/><circle cx="32.8" cy="66.4" r="0.89"/><circle cx="30.8" cy="60.1" r="0.68"/><circle cx="37.2" cy="63.5" r="0.78"/><circle cx="39.9" cy="67.8" r="0.62"/><circle cx="35.3" cy="61.5" r="0.89"/><circle cx="27.6" cy="59.1" r="0.88"/><circle cx="38.7" cy="73.3" r="0.75"/><circle cx="29.1" cy="59.2" r="0.61"/><circle cx="39.6" cy="65.2" r="0.74"/><circle cx="36.5" cy="70.0" r="0.77"/><circle cx="39.8" cy="72.0" r="0.83"/><circle cx="35.9" cy="61.3" r="0.71"/><circle cx="26.9" cy="59.5" r="0.63"/><circle cx="33.8" cy="61.3" r="0.88"/><circle cx="36.3" cy="60.6" r="0.85"/><circle cx="31.3" cy="63.9" r="0.74"/><circle cx="31.5" cy="57.7" r="0.77"/><circle cx="36.3" cy="69.2" r="0.63"/><circle cx="37.6" cy="63.4" r="0.62"/><circle cx="40.7" cy="66.9" r="0.71"/><circle cx="34.6" cy="66.1" r="0.74"/><circle cx="39.9" cy="65.8" r="0.63"/><circle cx="37.4" cy="68.7" r="0.63"/><circle cx="35.6" cy="68.2" r="0.74"/><circle cx="35.9" cy="68.5" r="0.89"/><circle cx="27.5" cy="58.4" r="0.71"/><circle cx="31.6" cy="62.8" r="0.70"/><circle cx="38.9" cy="69.2" r="0.73"/><circle cx="32.1" cy="63.9" r="0.68"/><circle cx="31.1" cy="61.5" r="0.78"/><circle cx="29.9" cy="56.7" r="0.89"/><circle cx="31.4" cy="57.9" r="0.70"/><circle cx="39.7" cy="63.6" r="0.73"/><circle cx="26.4" cy="60.9" r="0.76"/><circle cx="34.0" cy="65.2" r="0.71"/><circle cx="30.0" cy="64.0" r="0.85"/><circle cx="34.7" cy="69.6" r="0.85"/><circle cx="31.7" cy="62.2" r="0.65"/><circle cx="30.3" cy="56.5" r="0.86"/><circle cx="30.2" cy="60.0" r="0.66"/><circle cx="39.4" cy="66.9" r="0.87"/><circle cx="36.5" cy="61.0" r="0.83"/><circle cx="32.8" cy="55.6" r="0.69"/><circle cx="32.9" cy="56.6" r="0.62"/><circle cx="32.2" cy="56.2" r="0.65"/><circle cx="34.4" cy="69.9" r="0.77"/><circle cx="34.0" cy="66.9" r="0.68"/><circle cx="35.2" cy="68.8" r="0.83"/><circle cx="39.8" cy="65.1" r="0.60"/><circle cx="32.8" cy="68.4" r="0.80"/><circle cx="25.4" cy="58.8" r="0.79"/><circle cx="28.4" cy="61.7" r="0.81"/><circle cx="31.4" cy="64.6" r="0.83"/><circle cx="35.0" cy="58.8" r="0.72"/><circle cx="38.8" cy="71.8" r="0.82"/><circle cx="34.2" cy="67.4" r="0.64"/><circle cx="40.1" cy="68.8" r="0.77"/><circle cx="30.7" cy="58.7" r="0.83"/><circle cx="36.7" cy="70.9" r="0.90"/><circle cx="39.3" cy="62.8" r="0.61"/><circle cx="37.0" cy="62.2" r="0.66"/><circle cx="37.8" cy="62.6" r="0.75"/><circle cx="34.6" cy="63.5" r="0.80"/><circle cx="28.1" cy="58.8" r="0.74"/><circle cx="26.0" cy="59.5" r="0.71"/><circle cx="32.8" cy="62.9" r="0.85"/><circle cx="34.9" cy="66.4" r="0.65"/><circle cx="31.0" cy="62.6" r="0.74"/><circle cx="29.6" cy="56.8" r="0.80"/><circle cx="38.2" cy="69.5" r="0.69"/><circle cx="34.1" cy="60.2" r="0.86"/><circle cx="36.7" cy="62.4" r="0.84"/><circle cx="30.3" cy="61.3" r="0.62"/><circle cx="30.9" cy="58.0" r="0.69"/><circle cx="31.5" cy="67.1" r="0.63"/><circle cx="31.7" cy="65.1" r="0.80"/><circle cx="32.3" cy="56.6" r="0.70"/><circle cx="40.7" cy="65.8" r="0.81"/><circle cx="34.6" cy="59.9" r="0.64"/><circle cx="33.7" cy="57.6" r="0.77"/><circle cx="39.8" cy="66.5" r="0.89"/><circle cx="29.8" cy="61.8" r="0.66"/><circle cx="25.4" cy="59.8" r="0.89"/><circle cx="41.5" cy="67.2" r="0.79"/><circle cx="25.0" cy="58.5" r="0.72"/><circle cx="29.0" cy="60.7" r="0.76"/><circle cx="41.5" cy="67.4" r="0.70"/><circle cx="32.1" cy="57.3" r="0.87"/><circle cx="38.2" cy="68.1" r="0.61"/><circle cx="38.2" cy="63.2" r="0.84"/><circle cx="31.1" cy="57.5" r="0.75"/><circle cx="34.5" cy="61.8" r="0.86"/><circle cx="26.3" cy="59.3" r="0.82"/><circle cx="33.5" cy="55.8" r="0.76"/><circle cx="36.1" cy="67.8" r="0.68"/><circle cx="39.1" cy="70.4" r="0.79"/><circle cx="29.7" cy="61.0" r="0.79"/><circle cx="33.8" cy="59.2" r="0.68"/><circle cx="31.2" cy="59.4" r="0.72"/><circle cx="31.7" cy="63.7" r="0.75"/><circle cx="39.7" cy="64.1" r="0.62"/><circle cx="31.9" cy="64.5" r="0.62"/><circle cx="71.4" cy="81.3" r="0.38"/><circle cx="75.7" cy="76.4" r="0.42"/><circle cx="39.0" cy="64.7" r="0.42"/><circle cx="53.2" cy="44.3" r="0.37"/><circle cx="49.3" cy="49.7" r="0.43"/><circle cx="68.0" cy="85.0" r="0.57"/><circle cx="21.6" cy="52.0" r="0.37"/><circle cx="22.2" cy="52.7" r="0.45"/><circle cx="55.7" cy="44.6" r="0.38"/><circle cx="78.8" cy="68.3" r="0.49"/><circle cx="73.8" cy="51.5" r="0.47"/><circle cx="21.5" cy="53.9" r="0.36"/><circle cx="68.0" cy="84.3" r="0.44"/><circle cx="75.0" cy="75.6" r="0.59"/><circle cx="46.1" cy="44.4" r="0.43"/><circle cx="77.9" cy="71.9" r="0.51"/><circle cx="62.3" cy="86.3" r="0.49"/><circle cx="66.6" cy="45.2" r="0.44"/></g></g></g><text x="123.9" y="100.0" class="tt" text-anchor="middle" textLength="33.2" lengthAdjust="spacingAndGlyphs">TNFRSF1B</text><g transform="translate(140,66.2)"><g filter="url(#rough)"><g clip-path="url(#cb)"><rect x="20" y="36" width="62" height="50" fill="#22918b"/><g filter="url(#bl)"><ellipse cx="36" cy="44" rx="7" ry="3.5" fill="#3dbb74" opacity="1"/><ellipse cx="58" cy="48.5" rx="6" ry="3" fill="#4ec36c" opacity="0.9"/><ellipse cx="73" cy="66" rx="6" ry="8" fill="#2a788e" opacity="0.8"/><ellipse cx="40" cy="61" rx="6" ry="3" fill="#3a4e8a" opacity="0.6"/><ellipse cx="55" cy="63.5" rx="21" ry="3.3" fill="#46327e" opacity="0.8" transform="rotate(-13 55 63.5)"/><ellipse cx="25" cy="55" rx="3.5" ry="2.2" fill="#414487" opacity="0.9"/><ellipse cx="48" cy="75.5" rx="10" ry="4" fill="#7fd34e" opacity="1"/><ellipse cx="47.5" cy="75.8" rx="6" ry="2.4" fill="#d8e219" opacity="1"/><ellipse cx="62" cy="81" rx="8" ry="2.5" fill="#1f9e89" opacity="0.6"/></g></g><circle cx="45.8" cy="39.8" r="2.6" fill="#2a9a88"/><path d="M23.00,57.40C23.50,56.93 26.00,57.63 28.00,57.20C30.00,56.77 33.40,54.37 35.00,54.80C36.60,55.23 36.73,58.27 37.60,59.80C38.47,61.33 39.40,62.47 40.20,64.00C41.00,65.53 42.40,67.50 42.40,69.00C42.40,70.50 41.10,72.20 40.20,73.00C39.30,73.80 38.20,74.47 37.00,73.80C35.80,73.13 34.33,70.63 33.00,69.00C31.67,67.37 30.33,65.50 29.00,64.00C27.67,62.50 26.00,61.10 25.00,60.00C24.00,58.90 22.50,57.87 23.00,57.40Z" fill="#46327e" opacity="0.45"/><g fill="#46327e"><circle cx="36.9" cy="72.9" r="0.61"/><circle cx="36.5" cy="69.7" r="0.68"/><circle cx="32.2" cy="56.9" r="0.68"/><circle cx="24.1" cy="57.8" r="0.82"/><circle cx="31.3" cy="65.6" r="0.78"/><circle cx="32.4" cy="62.9" r="0.65"/><circle cx="25.0" cy="58.3" r="0.67"/><circle cx="33.5" cy="63.5" r="0.72"/><circle cx="35.7" cy="59.0" r="0.76"/><circle cx="40.3" cy="67.8" r="0.64"/><circle cx="34.5" cy="69.4" r="0.76"/><circle cx="33.3" cy="69.1" r="0.75"/><circle cx="37.3" cy="65.5" r="0.85"/><circle cx="26.7" cy="60.2" r="0.84"/><circle cx="37.4" cy="60.5" r="0.86"/><circle cx="29.0" cy="63.7" r="0.73"/><circle cx="33.3" cy="56.3" r="0.68"/><circle cx="32.2" cy="60.0" r="0.65"/><circle cx="33.1" cy="68.9" r="0.85"/><circle cx="38.9" cy="71.4" r="0.76"/><circle cx="33.7" cy="66.8" r="0.72"/><circle cx="33.3" cy="62.2" r="0.78"/><circle cx="32.0" cy="62.6" r="0.85"/><circle cx="33.1" cy="60.2" r="0.71"/><circle cx="31.3" cy="65.8" r="0.87"/><circle cx="34.6" cy="55.8" r="0.78"/><circle cx="33.4" cy="63.4" r="0.80"/><circle cx="26.3" cy="58.5" r="0.64"/><circle cx="35.1" cy="70.2" r="0.67"/><circle cx="32.6" cy="58.1" r="0.88"/><circle cx="24.9" cy="57.7" r="0.84"/><circle cx="27.7" cy="62.4" r="0.79"/><circle cx="29.2" cy="62.2" r="0.63"/><circle cx="36.4" cy="64.3" r="0.74"/><circle cx="32.3" cy="65.6" r="0.70"/><circle cx="36.1" cy="72.7" r="0.82"/><circle cx="32.4" cy="62.9" r="0.82"/><circle cx="26.6" cy="60.4" r="0.78"/><circle cx="35.0" cy="61.2" r="0.74"/><circle cx="35.8" cy="72.0" r="0.62"/><circle cx="32.6" cy="66.4" r="0.64"/><circle cx="36.4" cy="66.9" r="0.85"/><circle cx="26.8" cy="58.9" r="0.70"/><circle cx="35.6" cy="59.7" r="0.90"/><circle cx="34.9" cy="69.3" r="0.72"/><circle cx="40.0" cy="64.5" r="0.65"/><circle cx="39.5" cy="68.2" r="0.83"/><circle cx="28.3" cy="58.9" r="0.88"/><circle cx="39.5" cy="63.7" r="0.73"/><circle cx="36.6" cy="67.8" r="0.79"/><circle cx="39.2" cy="68.7" r="0.71"/><circle cx="34.5" cy="62.9" r="0.66"/><circle cx="30.8" cy="64.9" r="0.65"/><circle cx="36.7" cy="67.8" r="0.77"/><circle cx="37.4" cy="69.3" r="0.66"/><circle cx="33.7" cy="62.8" r="0.84"/><circle cx="36.4" cy="73.1" r="0.81"/><circle cx="39.0" cy="70.6" r="0.75"/><circle cx="33.2" cy="65.4" r="0.63"/><circle cx="36.7" cy="60.3" r="0.75"/><circle cx="31.3" cy="64.1" r="0.61"/><circle cx="24.7" cy="58.7" r="0.83"/><circle cx="31.1" cy="59.2" r="0.70"/><circle cx="30.4" cy="63.0" r="0.76"/><circle cx="34.1" cy="59.1" r="0.75"/><circle cx="31.5" cy="61.5" r="0.76"/><circle cx="31.9" cy="58.3" r="0.72"/><circle cx="34.2" cy="62.8" r="0.66"/><circle cx="32.7" cy="66.3" r="0.62"/><circle cx="36.2" cy="71.8" r="0.61"/><circle cx="35.1" cy="68.4" r="0.86"/><circle cx="26.5" cy="59.6" r="0.89"/><circle cx="36.1" cy="58.2" r="0.84"/><circle cx="34.2" cy="70.3" r="0.73"/><circle cx="35.6" cy="59.1" r="0.88"/><circle cx="40.0" cy="67.9" r="0.79"/><circle cx="28.2" cy="60.1" r="0.64"/><circle cx="39.0" cy="65.7" r="0.62"/><circle cx="32.4" cy="67.4" r="0.65"/><circle cx="36.1" cy="57.2" r="0.74"/><circle cx="35.1" cy="63.2" r="0.75"/><circle cx="33.2" cy="67.1" r="0.63"/><circle cx="38.6" cy="61.5" r="0.83"/><circle cx="30.0" cy="58.7" r="0.82"/><circle cx="34.9" cy="58.6" r="0.68"/><circle cx="41.3" cy="66.6" r="0.86"/><circle cx="39.7" cy="71.5" r="0.69"/><circle cx="39.9" cy="72.0" r="0.78"/><circle cx="29.0" cy="63.3" r="0.82"/><circle cx="36.1" cy="64.1" r="0.87"/><circle cx="34.7" cy="62.9" r="0.63"/><circle cx="26.0" cy="60.3" r="0.60"/><circle cx="41.2" cy="69.0" r="0.79"/><circle cx="29.6" cy="63.2" r="0.65"/><circle cx="36.0" cy="63.5" r="0.79"/><circle cx="27.9" cy="57.8" r="0.67"/><circle cx="36.3" cy="66.9" r="0.80"/><circle cx="32.9" cy="58.0" r="0.86"/><circle cx="24.7" cy="57.7" r="0.63"/><circle cx="34.5" cy="57.1" r="0.82"/><circle cx="34.0" cy="66.4" r="0.76"/><circle cx="40.4" cy="67.4" r="0.64"/><circle cx="33.3" cy="64.5" r="0.71"/><circle cx="26.5" cy="60.3" r="0.70"/><circle cx="32.8" cy="65.2" r="0.73"/><circle cx="32.1" cy="63.1" r="0.84"/><circle cx="36.0" cy="67.0" r="0.71"/><circle cx="29.2" cy="59.4" r="0.77"/><circle cx="30.1" cy="64.4" r="0.71"/><circle cx="38.1" cy="71.6" r="0.71"/><circle cx="72.7" cy="80.3" r="0.55"/><circle cx="46.1" cy="44.0" r="0.38"/><circle cx="62.4" cy="86.5" r="0.45"/><circle cx="71.6" cy="47.4" r="0.37"/><circle cx="45.8" cy="43.9" r="0.54"/><circle cx="49.9" cy="49.8" r="0.37"/><circle cx="45.8" cy="45.3" r="0.39"/><circle cx="36.2" cy="39.7" r="0.49"/><circle cx="27.0" cy="46.2" r="0.53"/><circle cx="53.5" cy="45.0" r="0.56"/><circle cx="62.6" cy="86.4" r="0.46"/><circle cx="54.1" cy="45.1" r="0.44"/><circle cx="46.6" cy="44.3" r="0.45"/><circle cx="55.6" cy="44.5" r="0.59"/><circle cx="79.7" cy="65.3" r="0.43"/><circle cx="33.9" cy="53.9" r="0.36"/><circle cx="21.2" cy="52.2" r="0.43"/></g></g></g><text x="193.1" y="100.0" class="tt" text-anchor="middle" textLength="33.1" lengthAdjust="spacingAndGlyphs">TNFRSF14</text><g transform="translate(204,66.2)"><g filter="url(#rough)"><g clip-path="url(#cb)"><rect x="20" y="36" width="62" height="50" fill="#21908c"/><g filter="url(#bl)"><ellipse cx="40" cy="47" rx="9" ry="4" fill="#22a384" opacity="0.8"/><ellipse cx="36" cy="43.5" rx="5" ry="2.8" fill="#5ec962" opacity="1"/><ellipse cx="24" cy="55" rx="3.5" ry="2.3" fill="#472a7a" opacity="1"/><ellipse cx="28" cy="52" rx="4" ry="3" fill="#2c728e" opacity="0.8"/><ellipse cx="57" cy="48.5" rx="6" ry="3" fill="#3dbb74" opacity="0.95"/><ellipse cx="56" cy="73" rx="13" ry="5" fill="#27ad81" opacity="0.7"/><ellipse cx="72" cy="65" rx="7" ry="8" fill="#2a768e" opacity="0.75"/><ellipse cx="50" cy="66" rx="5" ry="2.6" fill="#3b528b" opacity="0.95"/><ellipse cx="47" cy="75" rx="9" ry="3" fill="#8ad546" opacity="1"/><ellipse cx="45.5" cy="75.5" rx="5" ry="1.8" fill="#dce318" opacity="1"/><ellipse cx="60" cy="82" rx="10" ry="2.5" fill="#31688e" opacity="0.6"/></g></g><circle cx="45.8" cy="39.8" r="2.6" fill="#2a7a8e"/><path d="M23.00,57.40C23.50,56.93 26.00,57.63 28.00,57.20C30.00,56.77 33.40,54.37 35.00,54.80C36.60,55.23 36.73,58.27 37.60,59.80C38.47,61.33 39.40,62.47 40.20,64.00C41.00,65.53 42.40,67.50 42.40,69.00C42.40,70.50 41.10,72.20 40.20,73.00C39.30,73.80 38.20,74.47 37.00,73.80C35.80,73.13 34.33,70.63 33.00,69.00C31.67,67.37 30.33,65.50 29.00,64.00C27.67,62.50 26.00,61.10 25.00,60.00C24.00,58.90 22.50,57.87 23.00,57.40Z" fill="#4a3a88" opacity="0.45"/><g fill="#4a3a88"><circle cx="32.1" cy="60.5" r="0.64"/><circle cx="36.9" cy="73.0" r="0.68"/><circle cx="28.6" cy="57.9" r="0.78"/><circle cx="41.4" cy="69.4" r="0.64"/><circle cx="25.2" cy="59.7" r="0.67"/><circle cx="30.4" cy="60.1" r="0.69"/><circle cx="38.4" cy="71.7" r="0.82"/><circle cx="40.7" cy="69.3" r="0.69"/><circle cx="34.8" cy="70.5" r="0.87"/><circle cx="36.2" cy="68.3" r="0.84"/><circle cx="40.4" cy="64.8" r="0.70"/><circle cx="33.9" cy="64.4" r="0.72"/><circle cx="37.5" cy="68.4" r="0.88"/><circle cx="33.3" cy="67.0" r="0.68"/><circle cx="36.1" cy="72.4" r="0.88"/><circle cx="30.6" cy="63.4" r="0.83"/><circle cx="30.4" cy="60.4" r="0.88"/><circle cx="32.8" cy="65.3" r="0.70"/><circle cx="30.3" cy="59.9" r="0.63"/><circle cx="34.8" cy="57.3" r="0.89"/><circle cx="41.3" cy="70.4" r="0.65"/><circle cx="40.1" cy="72.4" r="0.68"/><circle cx="36.1" cy="60.4" r="0.61"/><circle cx="31.6" cy="56.8" r="0.84"/><circle cx="36.7" cy="59.0" r="0.72"/><circle cx="31.6" cy="59.6" r="0.63"/><circle cx="24.9" cy="58.6" r="0.64"/><circle cx="31.8" cy="60.3" r="0.70"/><circle cx="33.9" cy="55.5" r="0.72"/><circle cx="40.5" cy="69.0" r="0.75"/><circle cx="30.4" cy="60.8" r="0.64"/><circle cx="34.8" cy="59.0" r="0.73"/><circle cx="30.7" cy="59.8" r="0.75"/><circle cx="38.4" cy="63.1" r="0.85"/><circle cx="36.5" cy="60.6" r="0.81"/><circle cx="35.2" cy="62.4" r="0.78"/><circle cx="38.1" cy="72.5" r="0.72"/><circle cx="30.8" cy="57.3" r="0.71"/><circle cx="35.8" cy="70.7" r="0.62"/><circle cx="40.6" cy="67.5" r="0.60"/><circle cx="31.1" cy="56.6" r="0.89"/><circle cx="36.1" cy="62.7" r="0.72"/><circle cx="38.6" cy="71.6" r="0.83"/><circle cx="26.5" cy="59.4" r="0.72"/><circle cx="29.7" cy="57.2" r="0.67"/><circle cx="33.6" cy="68.6" r="0.70"/><circle cx="37.6" cy="60.4" r="0.84"/><circle cx="32.2" cy="58.1" r="0.87"/><circle cx="31.3" cy="66.2" r="0.68"/><circle cx="33.8" cy="66.4" r="0.88"/><circle cx="31.3" cy="62.6" r="0.88"/><circle cx="32.6" cy="64.1" r="0.85"/><circle cx="28.6" cy="58.0" r="0.88"/><circle cx="33.7" cy="67.9" r="0.76"/><circle cx="34.8" cy="56.5" r="0.63"/><circle cx="36.4" cy="57.8" r="0.68"/><circle cx="29.8" cy="59.0" r="0.66"/><circle cx="34.2" cy="62.7" r="0.76"/><circle cx="33.4" cy="67.0" r="0.83"/><circle cx="31.0" cy="62.2" r="0.77"/><circle cx="37.3" cy="60.3" r="0.69"/><circle cx="33.1" cy="60.1" r="0.84"/><circle cx="32.8" cy="56.9" r="0.84"/><circle cx="32.8" cy="61.2" r="0.75"/><circle cx="35.7" cy="59.1" r="0.85"/><circle cx="40.2" cy="66.1" r="0.66"/><circle cx="34.4" cy="69.0" r="0.68"/><circle cx="38.5" cy="65.4" r="0.67"/><circle cx="39.8" cy="72.5" r="0.64"/><circle cx="41.3" cy="69.6" r="0.89"/><circle cx="34.8" cy="64.3" r="0.82"/><circle cx="31.2" cy="56.4" r="0.74"/><circle cx="40.3" cy="70.1" r="0.80"/><circle cx="37.5" cy="59.8" r="0.70"/><circle cx="31.6" cy="59.3" r="0.72"/><circle cx="35.3" cy="68.1" r="0.87"/><circle cx="33.4" cy="69.4" r="0.88"/><circle cx="33.2" cy="69.1" r="0.70"/><circle cx="37.2" cy="72.5" r="0.60"/><circle cx="29.5" cy="58.7" r="0.73"/><circle cx="38.4" cy="63.6" r="0.87"/><circle cx="36.1" cy="68.7" r="0.73"/><circle cx="31.8" cy="60.6" r="0.75"/><circle cx="34.9" cy="61.6" r="0.79"/><circle cx="31.0" cy="60.0" r="0.70"/><circle cx="36.3" cy="67.1" r="0.72"/><circle cx="38.0" cy="67.6" r="0.71"/><circle cx="33.8" cy="65.7" r="0.81"/><circle cx="36.1" cy="71.5" r="0.84"/><circle cx="31.8" cy="67.5" r="0.66"/><circle cx="35.4" cy="69.0" r="0.89"/><circle cx="40.1" cy="65.1" r="0.69"/><circle cx="39.5" cy="69.2" r="0.69"/><circle cx="29.2" cy="57.4" r="0.88"/><circle cx="38.2" cy="65.7" r="0.62"/><circle cx="36.8" cy="63.7" r="0.70"/><circle cx="38.1" cy="66.5" r="0.72"/><circle cx="38.6" cy="71.3" r="0.74"/><circle cx="32.1" cy="63.0" r="0.87"/><circle cx="38.3" cy="64.0" r="0.82"/><circle cx="39.8" cy="67.1" r="0.63"/><circle cx="33.3" cy="62.2" r="0.70"/><circle cx="32.0" cy="56.5" r="0.87"/><circle cx="35.8" cy="63.4" r="0.74"/><circle cx="28.3" cy="57.6" r="0.69"/><circle cx="39.5" cy="65.4" r="0.66"/><circle cx="38.8" cy="68.1" r="0.77"/><circle cx="34.0" cy="64.4" r="0.82"/><circle cx="37.6" cy="60.5" r="0.88"/><circle cx="40.2" cy="70.5" r="0.67"/><circle cx="67.7" cy="44.9" r="0.49"/><circle cx="75.8" cy="55.1" r="0.57"/><circle cx="52.0" cy="47.1" r="0.40"/><circle cx="43.6" cy="44.1" r="0.56"/><circle cx="43.4" cy="44.5" r="0.49"/><circle cx="43.5" cy="44.1" r="0.54"/><circle cx="61.3" cy="84.3" r="0.39"/><circle cx="81.0" cy="64.5" r="0.54"/><circle cx="23.9" cy="48.9" r="0.56"/><circle cx="70.6" cy="48.2" r="0.47"/><circle cx="67.3" cy="83.2" r="0.56"/><circle cx="74.8" cy="75.8" r="0.49"/><circle cx="78.0" cy="71.1" r="0.44"/><circle cx="62.3" cy="45.3" r="0.43"/><circle cx="36.8" cy="38.8" r="0.51"/><circle cx="40.1" cy="40.0" r="0.52"/><circle cx="39.5" cy="39.0" r="0.56"/><circle cx="21.6" cy="51.1" r="0.46"/></g></g></g><text x="252.1" y="100.0" class="tt" text-anchor="middle" textLength="18.9" lengthAdjust="spacingAndGlyphs">ITGAL</text>
<!-- E -->
<text x="313.5" y="16.8" class="pl">E</text>
<g stroke="#222" stroke-width="1.3" fill="none">
<path d="M353.9,54 V124.6 H512.5"/>
<path d="M350.7,56.9 H353.9 M350.7,79.5 H353.9 M350.7,102 H353.9 M350.7,124.6 H353.9"/>
<path d="M354,124.6 V127.5 M405.8,124.6 V127.5 M457.7,124.6 V127.5 M509.8,124.6 V127.5"/>
</g>
<rect x="360.5" y="118.5" width="38.3" height="6.1" fill="#4a7fc8"/>
<rect x="412.7" y="103.8" width="38.1" height="20.8" fill="#ee6a64"/>
<rect x="464.8" y="78.5" width="38.4" height="46.1" fill="#0c9b3c"/>
<g class="ax">
<text x="347.5" y="59.8" text-anchor="end">15</text>
<text x="347.5" y="82.4" text-anchor="end">10</text>
<text x="347.5" y="104.9" text-anchor="end">5</text>
<text x="347.5" y="127.5" text-anchor="end">0</text>
<text transform="translate(331.8,89.1) rotate(-90)" text-anchor="middle" textLength="28.6" lengthAdjust="spacingAndGlyphs">Treg (%)</text>
<text x="379.7" y="113.5" text-anchor="middle">1.36%</text>
<text x="431.7" y="99.2" text-anchor="middle">4.57%</text>
<text x="484.2" y="74" text-anchor="middle">10.18%</text>
<text x="380" y="138.3" text-anchor="middle">HD-</text>
<text x="379.5" y="147.7" text-anchor="middle">CD19</text>
<text x="431.7" y="138.3" text-anchor="middle">BCWM.1</text>
<text x="431.5" y="147.7" text-anchor="middle">CXCR4-wt</text>
<text x="483.3" y="138.3" text-anchor="middle">BCWM.1</text>
<text x="483.6" y="147.7" text-anchor="middle">CXCR4-mut</text>
</g>
<!-- F -->
<text x="7.5" y="182.2" class="pl">F</text>
<text x="239.6" y="178" font-style="italic" font-size="7.2" fill="#333" textLength="76.6" lengthAdjust="spacingAndGlyphs">Prior interaction potential</text>
<rect x="245.5" y="182.5" width="62" height="11" fill="url(#pk)"/>
<g font-size="5.6" fill="#333" text-anchor="middle">
<text x="246.8" y="199.2">0.00</text><text x="261.2" y="199.2">0.25</text><text x="275.8" y="199.2">0.50</text><text x="289.8" y="199.2">0.75</text><text x="305.3" y="199.2">1.00</text>
</g>
<text x="174.7" y="198.5" font-style="italic" font-size="8.3" fill="#333" textLength="33.7" lengthAdjust="spacingAndGlyphs">Receptors</text>
<text transform="translate(25.6,309.3) rotate(-90)" font-style="italic" font-size="8.3" fill="#333" text-anchor="middle" textLength="25.5" lengthAdjust="spacingAndGlyphs">Ligands</text>
<rect x="67.1" y="249.8" width="248.79999999999998" height="120.0" fill="#f5f2f4"/><line x1="91.98" y1="249.8" x2="91.98" y2="369.8" stroke="#fbf9fa" stroke-width="0.6"/><line x1="116.86" y1="249.8" x2="116.86" y2="369.8" stroke="#fbf9fa" stroke-width="0.6"/><line x1="141.74" y1="249.8" x2="141.74" y2="369.8" stroke="#fbf9fa" stroke-width="0.6"/><line x1="166.62" y1="249.8" x2="166.62" y2="369.8" stroke="#fbf9fa" stroke-width="0.6"/><line x1="191.50" y1="249.8" x2="191.50" y2="369.8" stroke="#fbf9fa" stroke-width="0.6"/><line x1="216.38" y1="249.8" x2="216.38" y2="369.8" stroke="#fbf9fa" stroke-width="0.6"/><line x1="241.26" y1="249.8" x2="241.26" y2="369.8" stroke="#fbf9fa" stroke-width="0.6"/><line x1="266.14" y1="249.8" x2="266.14" y2="369.8" stroke="#fbf9fa" stroke-width="0.6"/><line x1="291.02" y1="249.8" x2="291.02" y2="369.8" stroke="#fbf9fa" stroke-width="0.6"/><rect x="166.62" y="249.80" width="24.88" height="15.00" fill="#ea4592"/><rect x="291.02" y="264.80" width="24.88" height="15.00" fill="#e5468f"/><rect x="266.14" y="279.80" width="24.88" height="15.00" fill="#f390bf"/><rect x="67.10" y="294.80" width="24.88" height="15.00" fill="#f5a0c4"/><rect x="91.98" y="294.80" width="24.88" height="15.00" fill="#ea5a9c"/><rect x="241.26" y="309.80" width="24.88" height="15.00" fill="#f7bad5"/><rect x="216.38" y="324.80" width="24.88" height="15.00" fill="#e54d93"/><rect x="116.86" y="339.80" width="24.88" height="15.00" fill="#e8147f"/><rect x="141.74" y="339.80" width="24.88" height="15.00" fill="#f4aac9"/><rect x="191.50" y="354.80" width="24.88" height="15.00" fill="#e95a9c"/><rect x="67.1" y="249.8" width="248.79999999999998" height="120.0" fill="none" stroke="#222" stroke-width="1.3"/><line x1="79.54" y1="246.3" x2="79.54" y2="249.8" stroke="#222" stroke-width="0.9"/><text transform="translate(82.24,242.9) rotate(-90)" class="cl">CD26</text><line x1="104.42" y1="246.3" x2="104.42" y2="249.8" stroke="#222" stroke-width="0.9"/><text transform="translate(107.12,242.9) rotate(-90)" class="cl">CTLA4</text><line x1="129.30" y1="246.3" x2="129.30" y2="249.8" stroke="#222" stroke-width="0.9"/><text transform="translate(132.00,242.9) rotate(-90)" class="cl">CD226</text><line x1="154.18" y1="246.3" x2="154.18" y2="249.8" stroke="#222" stroke-width="0.9"/><text transform="translate(156.88,242.9) rotate(-90)" class="cl">ICAM1</text><line x1="179.06" y1="246.3" x2="179.06" y2="249.8" stroke="#222" stroke-width="0.9"/><text transform="translate(181.76,242.9) rotate(-90)" class="cl">TNFRSF14</text><line x1="203.94" y1="246.3" x2="203.94" y2="249.8" stroke="#222" stroke-width="0.9"/><text transform="translate(206.64,242.9) rotate(-90)" class="cl">TGFRB2</text><line x1="228.82" y1="246.3" x2="228.82" y2="249.8" stroke="#222" stroke-width="0.9"/><text transform="translate(231.52,242.9) rotate(-90)" class="cl">IL18R1</text><line x1="253.70" y1="246.3" x2="253.70" y2="249.8" stroke="#222" stroke-width="0.9"/><text transform="translate(256.40,242.9) rotate(-90)" class="cl">IGF2R</text><line x1="278.58" y1="246.3" x2="278.58" y2="249.8" stroke="#222" stroke-width="0.9"/><text transform="translate(281.28,242.9) rotate(-90)" class="cl" font-weight="bold">CD40-L</text><line x1="303.46" y1="246.3" x2="303.46" y2="249.8" stroke="#222" stroke-width="0.9"/><text transform="translate(306.16,242.9) rotate(-90)" class="cl">CD6</text><line x1="63.599999999999994" y1="257.30" x2="67.1" y2="257.30" stroke="#222" stroke-width="0.9"/><text x="60.099999999999994" y="260.20" class="rl" text-anchor="end">BTLA</text><line x1="63.599999999999994" y1="272.30" x2="67.1" y2="272.30" stroke="#222" stroke-width="0.9"/><text x="60.099999999999994" y="275.20" class="rl" text-anchor="end">ALCAM</text><line x1="63.599999999999994" y1="287.30" x2="67.1" y2="287.30" stroke="#222" stroke-width="0.9"/><text x="60.099999999999994" y="290.20" class="rl" text-anchor="end" font-weight="bold">CD40</text><line x1="63.599999999999994" y1="302.30" x2="67.1" y2="302.30" stroke="#222" stroke-width="0.9"/><text x="60.099999999999994" y="305.20" class="rl" text-anchor="end">CD86</text><line x1="63.599999999999994" y1="317.30" x2="67.1" y2="317.30" stroke="#222" stroke-width="0.9"/><text x="60.099999999999994" y="320.20" class="rl" text-anchor="end">GZMB</text><line x1="63.599999999999994" y1="332.30" x2="67.1" y2="332.30" stroke="#222" stroke-width="0.9"/><text x="60.099999999999994" y="335.20" class="rl" text-anchor="end">IL18</text><line x1="63.599999999999994" y1="347.30" x2="67.1" y2="347.30" stroke="#222" stroke-width="0.9"/><text x="60.099999999999994" y="350.20" class="rl" text-anchor="end">ITGB2</text><line x1="63.599999999999994" y1="362.30" x2="67.1" y2="362.30" stroke="#222" stroke-width="0.9"/><text x="60.099999999999994" y="365.20" class="rl" text-anchor="end">TGFB1</text>
<!-- G -->
<text x="348.5" y="181.8" class="pl">G</text>
<rect x="386.2" y="237.7" width="5.9" height="6" fill="#e8625e"/><rect x="386.2" y="247.8" width="5.9" height="6" fill="#169b46"/><rect x="386.2" y="257.3" width="5.9" height="6" fill="#4a86c8"/><text x="395.4" y="243.2" class="lg" textLength="26.4" lengthAdjust="spacingAndGlyphs">HD CD19</text><text x="395.4" y="253.3" class="lg" textLength="23.8" lengthAdjust="spacingAndGlyphs">BCWM.1</text><text x="395.4" y="262.9" class="lg" textLength="56.6" lengthAdjust="spacingAndGlyphs">BCWM.1-CXCR4mut</text><g stroke="#222" stroke-width="1.3" fill="none"><path d="M386,270 V360.6 H502.7"/><path d="M382.2,283.9 H386 M382.2,308.2 H386 M382.2,332.4 H386 M382.2,356.6 H386"/></g><text x="379.6" y="286.79999999999995" class="ax" text-anchor="end">3</text><text x="379.6" y="311.09999999999997" class="ax" text-anchor="end">2</text><text x="379.6" y="335.29999999999995" class="ax" text-anchor="end">1</text><text x="379.6" y="359.5" class="ax" text-anchor="end">0</text><text transform="translate(368.9,316.2) rotate(-90)" class="ax" text-anchor="middle" textLength="19" lengthAdjust="spacingAndGlyphs">CD40</text><line x1="408.3" y1="281.2" x2="408.3" y2="356.6" stroke="#9a9a9a" stroke-width="0.55"/><path d="M408.10,353.30 L408.10,353.38 L408.10,353.47 L408.10,353.55 L408.10,353.63 L408.10,353.71 L408.06,353.80 L407.97,353.88 L407.86,353.96 L407.73,354.04 L407.58,354.12 L407.41,354.21 L407.22,354.29 L407.01,354.37 L406.78,354.46 L406.53,354.54 L406.26,354.62 L405.97,354.70 L405.66,354.79 L405.33,354.87 L404.97,354.95 L404.59,355.03 L404.19,355.12 L403.77,355.20 L403.33,355.28 L402.86,355.36 L402.37,355.44 L401.86,355.53 L401.32,355.61 L400.76,355.69 L400.17,355.78 L399.57,355.86 L398.94,355.94 L398.28,356.02 L397.60,356.11 L396.89,356.19 L396.17,356.27 L395.41,356.35 L394.63,356.44 L393.83,356.52 L393.00,356.60 L423.60,356.60 L422.77,356.52 L421.97,356.44 L421.19,356.35 L420.43,356.27 L419.71,356.19 L419.00,356.11 L418.32,356.02 L417.66,355.94 L417.03,355.86 L416.43,355.78 L415.84,355.69 L415.28,355.61 L414.74,355.53 L414.23,355.44 L413.74,355.36 L413.27,355.28 L412.83,355.20 L412.41,355.12 L412.01,355.03 L411.63,354.95 L411.27,354.87 L410.94,354.79 L410.63,354.70 L410.34,354.62 L410.07,354.54 L409.82,354.46 L409.59,354.37 L409.38,354.29 L409.19,354.21 L409.02,354.12 L408.87,354.04 L408.74,353.96 L408.63,353.88 L408.54,353.80 L408.50,353.71 L408.50,353.63 L408.50,353.55 L408.50,353.47 L408.50,353.38 L408.50,353.30Z" fill="#e06660"/><line x1="393.0" y1="356.6" x2="423.6" y2="356.6" stroke="#1a2530" stroke-width="1.3" stroke-linecap="round" opacity="0.85"/><line x1="445.1" y1="295" x2="445.1" y2="356.6" stroke="#9a9a9a" stroke-width="0.55"/><path d="M444.70,347.50 L444.70,347.73 L444.70,347.95 L444.70,348.18 L444.70,348.41 L444.62,348.64 L444.45,348.87 L444.25,349.09 L444.04,349.32 L443.80,349.55 L443.55,349.77 L443.27,350.00 L442.98,350.23 L442.67,350.46 L442.35,350.69 L442.00,350.91 L441.65,351.14 L441.27,351.37 L440.88,351.60 L440.47,351.82 L440.05,352.05 L439.62,352.28 L439.16,352.50 L438.70,352.73 L438.22,352.96 L437.72,353.19 L437.22,353.42 L436.69,353.64 L436.16,353.87 L435.61,354.10 L435.04,354.33 L434.47,354.55 L433.88,354.78 L433.27,355.01 L432.66,355.24 L432.03,355.46 L431.39,355.69 L430.74,355.92 L430.07,356.15 L429.39,356.37 L428.70,356.60 L461.50,356.60 L460.81,356.37 L460.13,356.15 L459.46,355.92 L458.81,355.69 L458.17,355.46 L457.54,355.24 L456.93,355.01 L456.32,354.78 L455.73,354.55 L455.16,354.33 L454.59,354.10 L454.04,353.87 L453.51,353.64 L452.98,353.42 L452.48,353.19 L451.98,352.96 L451.50,352.73 L451.04,352.50 L450.58,352.28 L450.15,352.05 L449.73,351.82 L449.32,351.60 L448.93,351.37 L448.55,351.14 L448.20,350.91 L447.85,350.69 L447.53,350.46 L447.22,350.23 L446.93,350.00 L446.65,349.77 L446.40,349.55 L446.16,349.32 L445.95,349.09 L445.75,348.87 L445.58,348.64 L445.50,348.41 L445.50,348.18 L445.50,347.95 L445.50,347.73 L445.50,347.50Z" fill="#179c48"/><line x1="428.70000000000005" y1="356.6" x2="461.5" y2="356.6" stroke="#1a2530" stroke-width="1.3" stroke-linecap="round" opacity="0.85"/><line x1="482.2" y1="270" x2="482.2" y2="356.3" stroke="#9a9a9a" stroke-width="0.55"/><path d="M481.90,271.00 L481.75,285.00 L481.60,300.00 L481.30,312.00 L481.00,325.00 L480.60,335.00 L479.80,341.70 L478.60,345.00 L476.20,348.40 L473.20,351.00 L469.70,353.50 L466.00,356.30 L498.40,356.30 L494.70,353.50 L491.20,351.00 L488.20,348.40 L485.80,345.00 L484.60,341.70 L483.80,335.00 L483.40,325.00 L483.10,312.00 L482.80,300.00 L482.65,285.00 L482.50,271.00Z" fill="#4a86c8"/><line x1="466.0" y1="356.3" x2="498.4" y2="356.3" stroke="#1a2530" stroke-width="1.3" stroke-linecap="round" opacity="0.85"/><g fill="#2a2a2a" opacity="0.8"><circle cx="407.2" cy="287.7" r="0.6"/><circle cx="414.0" cy="280.9" r="0.6"/><circle cx="418.9" cy="287.7" r="0.6"/><circle cx="441.7" cy="296.2" r="0.6"/><circle cx="452.7" cy="295.1" r="0.6"/><circle cx="458.7" cy="294.5" r="0.6"/><circle cx="435.8" cy="301.9" r="0.6"/><circle cx="455.9" cy="305.0" r="0.6"/><circle cx="448.0" cy="308.9" r="0.6"/><circle cx="445.3" cy="312.0" r="0.6"/><circle cx="448.9" cy="312.7" r="0.6"/><circle cx="432.0" cy="314.2" r="0.6"/><circle cx="430.5" cy="318.4" r="0.6"/><circle cx="447.4" cy="320.5" r="0.6"/><circle cx="437.9" cy="325.8" r="0.6"/><circle cx="450.6" cy="334.3" r="0.6"/><circle cx="434.7" cy="336.4" r="0.6"/><circle cx="439.6" cy="336.4" r="0.6"/><circle cx="458.0" cy="342.7" r="0.6"/><circle cx="444.3" cy="306.7" r="0.6"/><circle cx="468.9" cy="270.2" r="0.6"/><circle cx="469.4" cy="285.0" r="0.6"/><circle cx="470.3" cy="286.1" r="0.6"/><circle cx="472.6" cy="290.9" r="0.6"/><circle cx="473.1" cy="295.1" r="0.6"/><circle cx="471.0" cy="296.7" r="0.6"/><circle cx="468.3" cy="299.9" r="0.6"/><circle cx="475.8" cy="300.9" r="0.6"/><circle cx="474.7" cy="303.6" r="0.6"/><circle cx="479.5" cy="298.3" r="0.6"/><circle cx="478.9" cy="287.2" r="0.6"/><circle cx="483.7" cy="284.0" r="0.6"/><circle cx="484.2" cy="289.3" r="0.6"/><circle cx="483.7" cy="291.9" r="0.6"/><circle cx="489.5" cy="286.1" r="0.6"/><circle cx="491.6" cy="284.5" r="0.6"/><circle cx="493.7" cy="288.2" r="0.6"/><circle cx="495.9" cy="290.3" r="0.6"/><circle cx="491.1" cy="292.5" r="0.6"/><circle cx="486.3" cy="299.9" r="0.6"/><circle cx="490.6" cy="299.9" r="0.6"/><circle cx="492.7" cy="300.9" r="0.6"/><circle cx="493.7" cy="303.6" r="0.6"/><circle cx="481.6" cy="301.4" r="0.6"/><circle cx="481.0" cy="304.0" r="0.6"/><circle cx="476.0" cy="281.0" r="0.6"/><circle cx="488.0" cy="278.0" r="0.6"/><circle cx="466.5" cy="293.0" r="0.6"/><circle cx="471.2" cy="317.3" r="0.6"/><circle cx="468.7" cy="329.7" r="0.6"/><circle cx="477.8" cy="325.4" r="0.6"/><circle cx="482.2" cy="307.2" r="0.6"/><circle cx="479.9" cy="306.4" r="0.6"/><circle cx="469.3" cy="307.7" r="0.6"/><circle cx="492.1" cy="321.1" r="0.6"/><circle cx="473.4" cy="309.7" r="0.6"/><circle cx="495.9" cy="328.8" r="0.6"/><circle cx="478.8" cy="326.9" r="0.6"/><circle cx="467.9" cy="342.1" r="0.6"/><circle cx="475.5" cy="337.6" r="0.6"/><circle cx="470.2" cy="310.5" r="0.6"/><circle cx="491.8" cy="316.7" r="0.6"/><circle cx="484.5" cy="311.9" r="0.6"/><circle cx="478.0" cy="329.3" r="0.6"/><circle cx="468.4" cy="325.8" r="0.6"/><circle cx="472.9" cy="307.3" r="0.6"/><circle cx="479.8" cy="330.9" r="0.6"/><circle cx="484.7" cy="316.9" r="0.6"/><circle cx="475.8" cy="322.2" r="0.6"/><circle cx="488.2" cy="335.2" r="0.6"/><circle cx="484.3" cy="314.3" r="0.6"/><circle cx="493.6" cy="325.0" r="0.6"/><circle cx="475.4" cy="332.7" r="0.6"/><circle cx="470.2" cy="342.2" r="0.6"/><circle cx="490.0" cy="320.9" r="0.6"/><circle cx="481.7" cy="310.8" r="0.6"/><circle cx="487.2" cy="306.5" r="0.6"/><circle cx="484.3" cy="334.1" r="0.6"/><circle cx="476.2" cy="338.3" r="0.6"/><circle cx="484.9" cy="331.4" r="0.6"/><circle cx="480.6" cy="327.0" r="0.6"/><circle cx="495.8" cy="336.9" r="0.6"/><circle cx="487.1" cy="323.0" r="0.6"/><circle cx="488.2" cy="307.3" r="0.6"/><circle cx="497.3" cy="329.6" r="0.6"/><circle cx="475.3" cy="336.2" r="0.6"/><circle cx="487.2" cy="319.7" r="0.6"/><circle cx="480.8" cy="305.9" r="0.6"/><circle cx="470.1" cy="311.4" r="0.6"/><circle cx="490.3" cy="307.2" r="0.6"/><circle cx="474.2" cy="309.9" r="0.6"/><circle cx="493.5" cy="319.9" r="0.6"/><circle cx="480.4" cy="308.1" r="0.6"/><circle cx="493.9" cy="325.9" r="0.6"/><circle cx="493.3" cy="336.1" r="0.6"/><circle cx="479.4" cy="315.6" r="0.6"/><circle cx="493.9" cy="318.6" r="0.6"/><circle cx="471.2" cy="341.4" r="0.6"/><circle cx="473.7" cy="311.7" r="0.6"/><circle cx="481.5" cy="313.9" r="0.6"/><circle cx="474.6" cy="327.4" r="0.6"/><circle cx="479.5" cy="305.2" r="0.6"/><circle cx="484.1" cy="319.0" r="0.6"/><circle cx="487.9" cy="341.2" r="0.6"/><circle cx="485.6" cy="324.6" r="0.6"/><circle cx="468.2" cy="330.7" r="0.6"/><circle cx="490.7" cy="339.2" r="0.6"/><circle cx="491.2" cy="338.2" r="0.6"/><circle cx="478.9" cy="319.9" r="0.6"/><circle cx="486.2" cy="308.9" r="0.6"/><circle cx="468.6" cy="307.4" r="0.6"/><circle cx="471.5" cy="312.9" r="0.6"/><circle cx="468.1" cy="317.9" r="0.6"/><circle cx="471.2" cy="305.0" r="0.6"/><circle cx="477.8" cy="308.9" r="0.6"/><circle cx="493.6" cy="306.0" r="0.6"/><circle cx="471.1" cy="328.3" r="0.6"/><circle cx="477.3" cy="314.6" r="0.6"/><circle cx="470.3" cy="318.8" r="0.6"/><circle cx="497.3" cy="337.3" r="0.6"/><circle cx="481.5" cy="322.7" r="0.6"/><circle cx="469.7" cy="308.3" r="0.6"/><circle cx="474.7" cy="318.0" r="0.6"/><circle cx="471.5" cy="336.5" r="0.6"/><circle cx="496.0" cy="305.9" r="0.6"/><circle cx="471.0" cy="325.1" r="0.6"/><circle cx="467.3" cy="325.6" r="0.6"/><circle cx="496.8" cy="325.1" r="0.6"/><circle cx="488.1" cy="337.8" r="0.6"/><circle cx="477.9" cy="314.9" r="0.6"/><circle cx="490.4" cy="311.3" r="0.6"/><circle cx="490.7" cy="325.2" r="0.6"/><circle cx="473.4" cy="317.5" r="0.6"/><circle cx="497.0" cy="335.8" r="0.6"/><circle cx="491.5" cy="337.4" r="0.6"/><circle cx="489.4" cy="336.1" r="0.6"/><circle cx="482.5" cy="313.6" r="0.6"/><circle cx="467.4" cy="318.5" r="0.6"/><circle cx="475.2" cy="306.1" r="0.6"/><circle cx="488.0" cy="314.8" r="0.6"/><circle cx="480.4" cy="341.3" r="0.6"/><circle cx="497.1" cy="340.6" r="0.6"/><circle cx="477.8" cy="341.3" r="0.6"/><circle cx="473.5" cy="313.4" r="0.6"/><circle cx="472.8" cy="312.5" r="0.6"/><circle cx="494.4" cy="328.7" r="0.6"/><circle cx="481.4" cy="336.9" r="0.6"/><circle cx="491.3" cy="329.8" r="0.6"/><circle cx="487.0" cy="308.2" r="0.6"/><circle cx="490.8" cy="339.6" r="0.6"/><circle cx="481.3" cy="333.5" r="0.6"/><circle cx="491.0" cy="311.8" r="0.6"/><circle cx="491.3" cy="317.6" r="0.6"/><circle cx="478.8" cy="341.9" r="0.6"/><circle cx="495.9" cy="320.3" r="0.6"/><circle cx="471.8" cy="332.5" r="0.6"/><circle cx="471.2" cy="309.8" r="0.6"/><circle cx="491.5" cy="339.4" r="0.6"/><circle cx="492.1" cy="310.6" r="0.6"/><circle cx="486.9" cy="342.3" r="0.6"/><circle cx="483.5" cy="318.3" r="0.6"/><circle cx="466.9" cy="310.0" r="0.6"/><circle cx="486.6" cy="341.9" r="0.6"/><circle cx="495.4" cy="325.0" r="0.6"/><circle cx="493.5" cy="321.5" r="0.6"/><circle cx="473.0" cy="336.4" r="0.6"/><circle cx="475.6" cy="314.6" r="0.6"/><circle cx="484.7" cy="314.1" r="0.6"/><circle cx="479.5" cy="314.9" r="0.6"/><circle cx="494.7" cy="310.0" r="0.6"/><circle cx="480.7" cy="318.4" r="0.6"/><circle cx="494.5" cy="327.2" r="0.6"/><circle cx="494.9" cy="321.0" r="0.6"/><circle cx="483.0" cy="324.1" r="0.6"/><circle cx="467.1" cy="324.9" r="0.6"/><circle cx="472.2" cy="321.7" r="0.6"/><circle cx="491.3" cy="305.1" r="0.6"/><circle cx="481.2" cy="311.5" r="0.6"/><circle cx="483.8" cy="332.6" r="0.6"/><circle cx="482.6" cy="317.4" r="0.6"/><circle cx="490.8" cy="326.1" r="0.6"/><circle cx="483.9" cy="309.0" r="0.6"/><circle cx="475.1" cy="314.4" r="0.6"/><circle cx="482.2" cy="334.3" r="0.6"/><circle cx="490.1" cy="326.3" r="0.6"/><circle cx="480.2" cy="339.7" r="0.6"/><circle cx="482.2" cy="328.3" r="0.6"/><circle cx="488.0" cy="324.5" r="0.6"/></g>
</svg>
</body></html>
